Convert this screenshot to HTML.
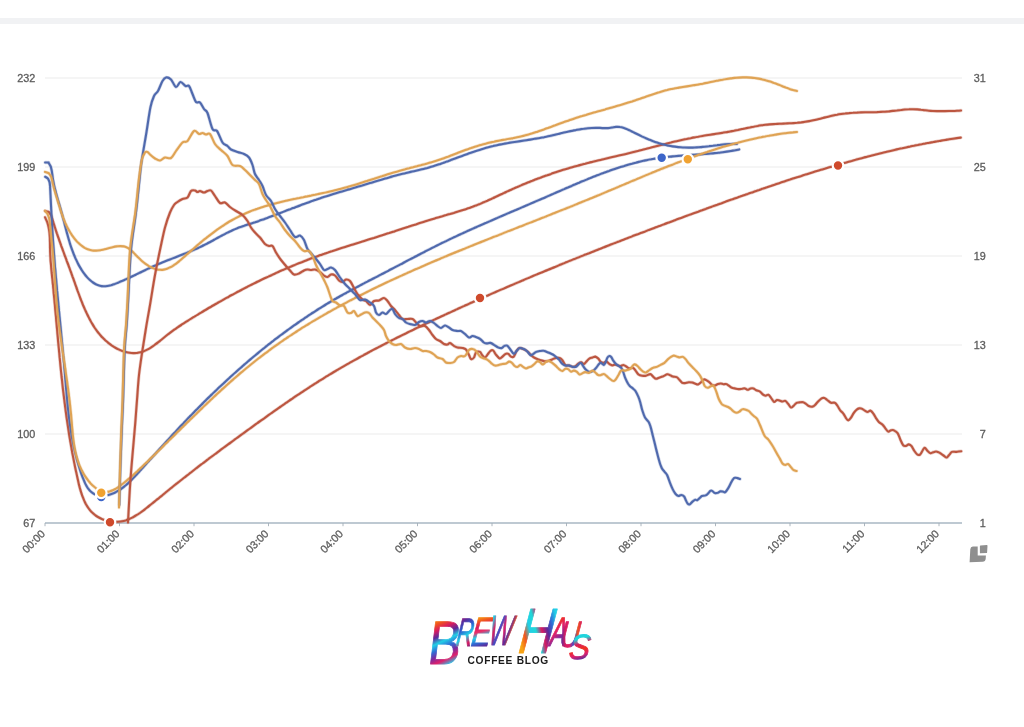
<!DOCTYPE html>
<html lang="en">
<head>
<meta charset="utf-8">
<title>Brew Haus Coffee Blog - Roast Profile</title>
<style>
html,body{margin:0;padding:0;background:#fff;}
body{width:1024px;height:727px;overflow:hidden;position:relative;font-family:"Liberation Sans",sans-serif;}
#topbar{position:absolute;left:0;top:18px;width:1024px;height:6px;background:#f1f2f4;}
svg{position:absolute;left:0;top:0;}
.ax{font-family:"Liberation Sans",sans-serif;font-size:10.8px;fill:#5c5c5c;stroke:#5c5c5c;stroke-width:0.3;}
.ln{fill:none;stroke-width:2.2;stroke-linejoin:round;stroke-linecap:round;}
#sub{position:absolute;left:467.5px;top:656.3px;font-family:"Liberation Sans",sans-serif;font-weight:bold;font-size:10.2px;line-height:10px;letter-spacing:0.72px;color:#1a1a1a;white-space:nowrap;}
</style>
</head>
<body>
<div id="topbar"></div>
<svg width="1024" height="727" viewBox="0 0 1024 727">

<g stroke="#ececec" stroke-width="1.2">
<line x1="45" y1="78" x2="962" y2="78"/>
<line x1="45" y1="167" x2="962" y2="167"/>
<line x1="45" y1="256" x2="962" y2="256"/>
<line x1="45" y1="345" x2="962" y2="345"/>
<line x1="45" y1="434" x2="962" y2="434"/>
</g>
<g stroke="#a9b7c3" stroke-width="1.4">
<line x1="45" y1="523" x2="962" y2="523"/>
<line x1="45.0" y1="523" x2="45.0" y2="526.2" stroke-width="0.9" stroke="#a3aeb8"/>
<line x1="119.5" y1="523" x2="119.5" y2="526.2" stroke-width="0.9" stroke="#a3aeb8"/>
<line x1="194.0" y1="523" x2="194.0" y2="526.2" stroke-width="0.9" stroke="#a3aeb8"/>
<line x1="268.5" y1="523" x2="268.5" y2="526.2" stroke-width="0.9" stroke="#a3aeb8"/>
<line x1="343.0" y1="523" x2="343.0" y2="526.2" stroke-width="0.9" stroke="#a3aeb8"/>
<line x1="417.5" y1="523" x2="417.5" y2="526.2" stroke-width="0.9" stroke="#a3aeb8"/>
<line x1="492.0" y1="523" x2="492.0" y2="526.2" stroke-width="0.9" stroke="#a3aeb8"/>
<line x1="566.5" y1="523" x2="566.5" y2="526.2" stroke-width="0.9" stroke="#a3aeb8"/>
<line x1="641.0" y1="523" x2="641.0" y2="526.2" stroke-width="0.9" stroke="#a3aeb8"/>
<line x1="715.5" y1="523" x2="715.5" y2="526.2" stroke-width="0.9" stroke="#a3aeb8"/>
<line x1="790.0" y1="523" x2="790.0" y2="526.2" stroke-width="0.9" stroke="#a3aeb8"/>
<line x1="864.5" y1="523" x2="864.5" y2="526.2" stroke-width="0.9" stroke="#a3aeb8"/>
<line x1="939.0" y1="523" x2="939.0" y2="526.2" stroke-width="0.9" stroke="#a3aeb8"/>
</g>
<g class="ax" text-anchor="end">
<text x="35.2" y="81.6">232</text>
<text x="35.2" y="170.6">199</text>
<text x="35.2" y="259.6">166</text>
<text x="35.2" y="348.6">133</text>
<text x="35.2" y="437.6">100</text>
<text x="35.2" y="526.6">67</text>
</g>
<g class="ax" text-anchor="end">
<text x="985.8" y="81.5">31</text>
<text x="985.8" y="170.5">25</text>
<text x="985.8" y="259.5">19</text>
<text x="985.8" y="348.5">13</text>
<text x="985.8" y="437.5">7</text>
<text x="985.8" y="526.5">1</text>
</g>
<g class="ax" text-anchor="end">
<text transform="translate(45.8,534.6) rotate(-45)">00:00</text>
<text transform="translate(120.3,534.6) rotate(-45)">01:00</text>
<text transform="translate(194.8,534.6) rotate(-45)">02:00</text>
<text transform="translate(269.3,534.6) rotate(-45)">03:00</text>
<text transform="translate(343.8,534.6) rotate(-45)">04:00</text>
<text transform="translate(418.3,534.6) rotate(-45)">05:00</text>
<text transform="translate(492.8,534.6) rotate(-45)">06:00</text>
<text transform="translate(567.3,534.6) rotate(-45)">07:00</text>
<text transform="translate(641.8,534.6) rotate(-45)">08:00</text>
<text transform="translate(716.3,534.6) rotate(-45)">09:00</text>
<text transform="translate(790.8,534.6) rotate(-45)">10:00</text>
<text transform="translate(865.3,534.6) rotate(-45)">11:00</text>
<text transform="translate(939.8,534.6) rotate(-45)">12:00</text>
</g>
<g>
<defs><path id="r_et" d="M45.1 210.9C45.7 211.1 48.1 211.8 48.7 212.0C49.4 212.2 48.4 211.6 48.8 212.1C49.2 212.6 50.4 213.9 51.0 215.1C51.6 216.3 52.1 218.3 52.4 219.1C52.7 219.9 52.4 219.3 52.6 219.9C52.8 220.6 53.2 222.0 53.6 223.2C54.0 224.3 54.4 225.8 54.8 227.0C55.2 228.3 55.6 229.6 56.0 230.8C56.4 232.0 57.0 233.8 57.3 234.5C57.5 235.2 57.2 234.4 57.4 235.0C57.7 235.6 58.1 237.1 58.6 238.2C59.0 239.4 59.4 240.7 59.9 242.0C60.3 243.3 60.8 244.5 61.2 245.8C61.7 247.1 62.1 248.3 62.6 249.6C63.1 250.9 63.5 252.1 64.0 253.4C64.5 254.7 64.9 256.0 65.4 257.2C65.9 258.5 66.4 259.8 66.8 261.1C67.3 262.4 67.8 263.6 68.3 264.9C68.7 266.2 69.2 267.5 69.7 268.7C70.1 270.0 70.6 271.3 71.1 272.5C71.5 273.8 72.0 275.1 72.4 276.3C72.9 277.6 73.3 278.8 73.8 280.1C74.2 281.3 74.7 282.6 75.1 283.8C75.5 285.0 76.0 286.3 76.4 287.5C76.9 288.7 77.3 290.0 77.7 291.2C78.2 292.4 78.6 293.6 79.1 294.8C79.5 296.1 80.0 297.3 80.4 298.5C80.9 299.7 81.4 300.9 81.9 302.1C82.3 303.4 82.8 304.6 83.3 305.8C83.9 307.0 84.4 308.2 84.9 309.4C85.5 310.6 86.0 311.9 86.6 313.1C87.2 314.3 87.7 315.5 88.4 316.7C89.0 317.9 89.6 319.2 90.3 320.4C90.9 321.6 91.6 322.8 92.3 323.9C93.0 325.1 93.7 326.3 94.5 327.5C95.3 328.6 96.1 329.7 96.9 330.9C97.7 332.0 98.6 333.1 99.5 334.1C100.4 335.2 101.3 336.2 102.2 337.3C103.2 338.3 104.2 339.2 105.2 340.2C106.2 341.1 107.3 342.0 108.3 342.9C109.4 343.8 110.5 344.6 111.6 345.4C112.8 346.1 113.9 346.9 115.0 347.5C116.2 348.2 117.4 348.9 118.6 349.4C119.7 350.0 120.9 350.5 122.2 350.9C123.4 351.4 124.6 351.8 125.8 352.1C127.0 352.4 128.3 352.7 129.5 352.8C130.7 353.0 132.0 353.1 133.2 353.1C134.4 353.2 135.7 353.1 136.9 353.0C138.1 352.8 139.3 352.6 140.5 352.3C141.8 352.0 143.0 351.6 144.1 351.1C145.3 350.6 146.5 350.0 147.7 349.4C148.9 348.8 150.0 348.1 151.2 347.3C152.3 346.6 153.5 345.8 154.6 345.0C155.8 344.1 156.9 343.3 158.0 342.4C159.1 341.5 160.3 340.6 161.4 339.7C162.5 338.8 163.6 337.9 164.7 337.0C165.8 336.1 166.9 335.2 168.0 334.3C169.1 333.5 170.2 332.6 171.3 331.8C172.4 331.0 173.5 330.2 174.6 329.4C175.7 328.7 176.8 327.9 177.9 327.2C179.0 326.4 180.1 325.7 181.2 325.0C182.3 324.3 183.3 323.6 184.4 322.9C185.5 322.2 186.6 321.5 187.7 320.8C188.8 320.1 189.9 319.4 191.1 318.7C192.2 318.0 193.3 317.3 194.4 316.7C195.5 316.0 196.6 315.3 197.8 314.6C198.9 313.9 200.0 313.2 201.1 312.6C202.3 311.9 203.4 311.2 204.5 310.5C205.7 309.9 206.8 309.2 207.9 308.5C209.1 307.8 210.2 307.2 211.4 306.5C212.5 305.8 213.7 305.2 214.8 304.5C216.0 303.9 217.1 303.2 218.3 302.5C219.4 301.9 220.6 301.2 221.7 300.6C222.9 299.9 224.1 299.3 225.2 298.6C226.4 298.0 227.6 297.3 228.8 296.7C229.9 296.0 231.1 295.4 232.3 294.8C233.5 294.1 234.6 293.5 235.8 292.9C237.0 292.2 238.2 291.6 239.4 291.0C240.6 290.3 241.8 289.7 242.9 289.1C244.1 288.5 245.3 287.9 246.5 287.3C247.7 286.6 248.9 286.0 250.1 285.4C251.3 284.8 252.5 284.2 253.7 283.6C254.9 283.0 256.2 282.4 257.4 281.8C258.6 281.2 259.8 280.6 261.0 280.0C262.2 279.5 263.4 278.9 264.6 278.3C265.9 277.7 267.1 277.1 268.3 276.6C269.5 276.0 270.7 275.4 272.0 274.9C273.2 274.3 274.4 273.7 275.6 273.2C276.9 272.6 278.1 272.1 279.3 271.5C280.6 271.0 281.8 270.4 283.0 269.9C284.3 269.4 285.5 268.8 286.8 268.3C288.0 267.8 289.2 267.2 290.5 266.7C291.7 266.2 293.0 265.7 294.2 265.2C295.4 264.7 296.7 264.2 297.9 263.6C299.2 263.1 300.4 262.6 301.7 262.2C302.9 261.7 304.2 261.2 305.4 260.7C306.7 260.2 307.9 259.7 309.2 259.2C310.4 258.8 311.7 258.3 313.0 257.8C314.2 257.4 315.5 256.9 316.7 256.5C318.0 256.0 319.2 255.6 320.5 255.1C321.8 254.7 323.0 254.2 324.3 253.8C325.6 253.3 326.8 252.9 328.1 252.5C329.3 252.1 330.6 251.6 331.9 251.2C333.1 250.8 334.4 250.4 335.7 250.0C336.9 249.5 338.2 249.1 339.5 248.7C340.8 248.3 342.0 247.9 343.3 247.5C344.6 247.1 345.8 246.7 347.1 246.3C348.4 245.9 349.6 245.5 350.9 245.1C352.2 244.7 353.5 244.3 354.7 243.9C356.0 243.5 357.3 243.1 358.6 242.7C359.8 242.3 361.1 241.9 362.4 241.5C363.7 241.1 364.9 240.7 366.2 240.3C367.5 239.9 368.8 239.5 370.0 239.1C371.3 238.7 372.6 238.3 373.9 237.9C375.1 237.5 376.4 237.1 377.7 236.7C379.0 236.3 380.2 235.9 381.5 235.5C382.8 235.1 384.1 234.7 385.3 234.2C386.6 233.8 387.9 233.4 389.2 233.0C390.4 232.6 391.7 232.2 393.0 231.8C394.3 231.4 395.5 230.9 396.8 230.5C398.1 230.1 399.4 229.7 400.6 229.3C401.9 228.9 403.2 228.5 404.5 228.0C405.7 227.6 407.0 227.2 408.3 226.8C409.5 226.4 410.8 226.0 412.1 225.6C413.4 225.2 414.6 224.8 415.9 224.4C417.2 223.9 418.4 223.5 419.7 223.1C421.0 222.7 422.2 222.3 423.5 221.9C424.8 221.5 426.0 221.1 427.3 220.7C428.6 220.4 429.8 220.0 431.1 219.6C432.4 219.2 433.6 218.8 434.9 218.4C436.2 218.0 437.4 217.7 438.7 217.3C439.9 216.9 441.2 216.5 442.5 216.2C443.7 215.8 445.0 215.4 446.2 215.1C447.5 214.7 448.7 214.3 450.0 214.0C451.2 213.6 452.5 213.2 453.8 212.9C455.0 212.5 456.3 212.1 457.5 211.7C458.8 211.4 460.0 211.0 461.3 210.6C462.5 210.2 463.8 209.8 465.0 209.4C466.3 209.0 467.5 208.5 468.8 208.1C470.0 207.7 471.3 207.2 472.5 206.8C473.7 206.3 475.0 205.9 476.2 205.4C477.5 204.9 478.7 204.4 480.0 203.9C481.2 203.4 482.5 202.8 483.7 202.3C485.0 201.8 486.2 201.2 487.4 200.7C488.7 200.1 489.9 199.5 491.2 199.0C492.4 198.4 493.7 197.8 494.9 197.2C496.2 196.7 497.4 196.1 498.6 195.5C499.9 194.9 501.1 194.3 502.4 193.8C503.6 193.2 504.9 192.6 506.1 192.0C507.4 191.4 508.6 190.9 509.8 190.3C511.1 189.7 512.3 189.2 513.6 188.6C514.8 188.1 516.1 187.5 517.3 187.0C518.6 186.4 519.8 185.9 521.0 185.4C522.3 184.8 523.5 184.3 524.8 183.8C526.0 183.3 527.3 182.8 528.5 182.3C529.8 181.8 531.0 181.3 532.3 180.8C533.5 180.3 534.8 179.8 536.0 179.3C537.3 178.8 538.5 178.4 539.8 177.9C541.0 177.4 542.3 177.0 543.5 176.5C544.8 176.1 546.0 175.6 547.3 175.2C548.6 174.7 549.8 174.3 551.1 173.9C552.3 173.4 553.6 173.0 554.8 172.6C556.1 172.2 557.4 171.7 558.6 171.3C559.9 170.9 561.1 170.5 562.4 170.1C563.7 169.7 564.9 169.4 566.2 169.0C567.5 168.6 568.7 168.2 570.0 167.8C571.3 167.5 572.5 167.1 573.8 166.7C575.1 166.4 576.3 166.0 577.6 165.7C578.9 165.3 580.2 165.0 581.4 164.7C582.7 164.3 584.0 164.0 585.3 163.7C586.5 163.3 587.8 163.0 589.1 162.7C590.4 162.4 591.7 162.0 592.9 161.7C594.2 161.4 595.5 161.1 596.8 160.8C598.1 160.5 599.4 160.2 600.7 159.9C601.9 159.6 603.2 159.2 604.5 158.9C605.8 158.6 607.1 158.3 608.4 158.0C609.7 157.7 611.0 157.4 612.3 157.1C613.5 156.8 614.8 156.5 616.1 156.2C617.4 155.9 618.7 155.6 620.0 155.3C621.3 155.0 622.6 154.7 623.9 154.4C625.2 154.1 626.5 153.8 627.8 153.4C629.1 153.1 630.4 152.8 631.7 152.5C633.0 152.2 634.3 151.8 635.6 151.5C636.9 151.2 638.2 150.9 639.5 150.5C640.8 150.2 642.1 149.9 643.4 149.5C644.7 149.2 646.0 148.9 647.3 148.5C648.6 148.2 649.9 147.9 651.2 147.5C652.5 147.2 653.8 146.8 655.2 146.5C656.5 146.2 657.8 145.8 659.1 145.5C660.4 145.2 661.7 144.8 663.0 144.5C664.3 144.2 665.6 143.9 666.9 143.5C668.2 143.2 669.6 142.9 670.9 142.6C672.2 142.2 673.5 141.9 674.8 141.6C676.1 141.3 677.4 141.0 678.7 140.7C680.0 140.4 681.4 140.1 682.7 139.8C684.0 139.5 685.3 139.2 686.6 139.0C687.9 138.7 689.2 138.4 690.6 138.2C691.9 137.9 693.2 137.6 694.5 137.4C695.8 137.1 697.1 136.9 698.4 136.7C699.8 136.4 701.1 136.2 702.4 136.0C703.7 135.8 705.0 135.6 706.3 135.3C707.6 135.1 709.0 134.9 710.3 134.7C711.6 134.5 712.9 134.3 714.2 134.1C715.5 133.9 716.9 133.7 718.2 133.5C719.5 133.3 720.8 133.1 722.1 132.9C723.4 132.6 724.8 132.4 726.1 132.2C727.4 132.0 728.7 131.7 730.0 131.5C731.3 131.3 732.7 131.0 734.0 130.8C735.3 130.5 736.6 130.2 737.9 130.0C739.2 129.7 740.6 129.4 741.9 129.1C743.2 128.8 744.5 128.6 745.8 128.3C747.2 128.0 748.5 127.7 749.8 127.5C751.1 127.2 752.4 126.9 753.7 126.7C755.1 126.4 756.4 126.2 757.7 126.0C759.0 125.7 760.3 125.5 761.7 125.3C763.0 125.1 764.3 125.0 765.6 124.8C766.9 124.7 768.3 124.5 769.6 124.4C770.9 124.3 772.2 124.2 773.5 124.1C774.9 124.0 776.2 124.0 777.5 123.9C778.8 123.8 780.2 123.8 781.5 123.7C782.8 123.6 784.1 123.6 785.4 123.5C786.8 123.4 788.1 123.4 789.4 123.3C790.7 123.2 792.1 123.2 793.4 123.1C794.7 123.0 796.0 122.9 797.3 122.8C798.7 122.6 800.0 122.5 801.3 122.4C802.6 122.2 804.0 122.0 805.3 121.8C806.6 121.6 807.9 121.4 809.3 121.1C810.6 120.9 811.9 120.6 813.2 120.3C814.6 120.0 815.9 119.7 817.2 119.4C818.5 119.1 819.9 118.7 821.2 118.4C822.5 118.1 823.8 117.7 825.2 117.4C826.5 117.1 827.8 116.7 829.1 116.4C830.5 116.1 831.8 115.8 833.1 115.5C834.4 115.2 835.8 114.9 837.1 114.7C838.4 114.4 839.7 114.2 841.1 114.0C842.4 113.8 843.7 113.6 845.1 113.5C846.4 113.3 847.7 113.2 849.0 113.1C850.4 112.9 851.7 112.8 853.0 112.8C854.3 112.7 855.7 112.6 857.0 112.6C858.3 112.5 859.7 112.5 861.0 112.4C862.3 112.4 863.6 112.4 865.0 112.3C866.3 112.3 867.6 112.3 869.0 112.3C870.3 112.2 871.6 112.2 873.0 112.2C874.3 112.1 875.6 112.1 876.9 112.1C878.3 112.0 879.6 112.0 880.9 111.9C882.3 111.8 883.6 111.8 884.9 111.7C886.3 111.6 887.6 111.5 888.9 111.4C890.3 111.2 891.6 111.1 892.9 110.9C894.3 110.8 895.6 110.6 896.9 110.5C898.2 110.3 899.6 110.1 900.9 110.0C902.2 109.8 903.6 109.7 904.9 109.5C906.2 109.4 907.6 109.3 908.9 109.3C910.2 109.2 911.6 109.2 912.9 109.2C914.2 109.2 915.6 109.3 916.9 109.4C918.2 109.5 919.6 109.6 920.9 109.8C922.2 109.9 923.6 110.1 924.9 110.2C926.3 110.4 927.6 110.6 928.9 110.7C930.3 110.8 931.6 111.0 932.9 111.0C934.3 111.1 935.6 111.1 936.9 111.1C938.3 111.1 939.6 111.1 940.9 111.1C942.3 111.1 943.6 111.1 945.0 111.1C946.3 111.1 947.6 111.1 949.0 111.0C950.3 111.0 951.6 111.0 953.0 111.0C954.3 111.0 955.7 110.9 957.0 110.8C958.3 110.8 960.3 110.6 961.0 110.5"/></defs>
<use href="#r_et" class="ln" stroke="#bc5640" style="stroke-width:3.4px;stroke-opacity:0.28"/>
<use href="#r_et" class="ln" stroke="#bc5640" style="stroke-width:2.1px"/>
<defs><path id="b_et" d="M45.1 162.5C45.7 162.5 47.9 162.6 48.5 162.6C49.0 162.7 48.3 162.2 48.6 162.8C49.0 163.4 50.2 165.5 50.6 166.3C51.0 167.1 50.8 166.7 51.0 167.4C51.1 168.1 51.4 169.3 51.7 170.5C51.9 171.6 52.1 173.2 52.3 174.4C52.5 175.6 52.6 176.9 52.7 177.5C52.8 178.2 52.7 177.5 52.8 178.3C53.0 179.1 53.2 180.9 53.5 182.2C53.7 183.5 54.0 184.8 54.3 186.2C54.6 187.5 54.9 188.8 55.3 190.1C55.6 191.4 55.9 192.7 56.3 194.0C56.6 195.3 57.0 196.6 57.4 198.0C57.8 199.3 58.1 200.6 58.5 201.9C58.9 203.2 59.3 204.5 59.7 205.8C60.1 207.1 60.4 208.4 60.8 209.7C61.2 211.0 61.5 212.3 61.9 213.6C62.3 214.9 62.6 216.2 62.9 217.5C63.3 218.8 63.6 220.1 64.0 221.4C64.3 222.7 64.6 224.0 64.9 225.3C65.3 226.5 65.6 227.8 65.9 229.1C66.3 230.4 66.6 231.7 66.9 232.9C67.3 234.2 67.6 235.5 68.0 236.8C68.3 238.0 68.7 239.3 69.1 240.6C69.4 241.8 69.8 243.1 70.2 244.4C70.6 245.6 71.1 246.9 71.5 248.2C71.9 249.4 72.4 250.7 72.9 251.9C73.3 253.2 73.8 254.4 74.4 255.7C74.9 256.9 75.4 258.2 76.0 259.4C76.6 260.7 77.2 262.0 77.8 263.2C78.4 264.4 79.1 265.7 79.8 266.9C80.5 268.1 81.2 269.3 82.0 270.5C82.7 271.7 83.5 272.8 84.4 273.9C85.2 275.0 86.1 276.1 87.0 277.1C87.9 278.1 88.9 279.1 89.9 280.0C90.9 280.9 91.9 281.8 93.0 282.5C94.1 283.2 95.2 283.9 96.4 284.5C97.5 285.0 98.7 285.5 99.9 285.8C101.0 286.1 102.3 286.3 103.5 286.3C104.7 286.4 106.0 286.2 107.2 286.0C108.5 285.8 109.8 285.5 111.0 285.2C112.3 284.8 113.6 284.3 114.9 283.9C116.1 283.4 117.4 282.9 118.7 282.4C120.0 281.8 121.2 281.3 122.5 280.8C123.8 280.2 125.0 279.7 126.3 279.1C127.6 278.5 128.8 277.9 130.1 277.4C131.3 276.8 132.6 276.2 133.8 275.6C135.1 275.0 136.3 274.4 137.6 273.8C138.8 273.2 140.1 272.6 141.3 272.0C142.6 271.4 143.8 270.8 145.0 270.2C146.3 269.6 147.5 269.0 148.7 268.4C150.0 267.9 151.2 267.3 152.4 266.7C153.7 266.2 154.9 265.6 156.1 265.1C157.3 264.5 158.6 264.0 159.8 263.5C161.0 263.0 162.3 262.5 163.5 262.0C164.7 261.5 165.9 261.0 167.1 260.5C168.4 260.0 169.6 259.6 170.8 259.1C172.0 258.6 173.3 258.1 174.5 257.7C175.7 257.2 176.9 256.7 178.1 256.2C179.3 255.8 180.6 255.3 181.8 254.8C183.0 254.3 184.2 253.9 185.4 253.4C186.6 252.9 187.9 252.4 189.1 251.9C190.3 251.4 191.5 250.9 192.7 250.4C193.9 249.8 195.2 249.3 196.4 248.8C197.6 248.2 198.8 247.7 200.0 247.1C201.2 246.5 202.5 245.9 203.7 245.3C204.9 244.7 206.1 244.1 207.3 243.5C208.5 242.8 209.8 242.2 211.0 241.5C212.2 240.9 213.4 240.2 214.6 239.5C215.9 238.8 217.1 238.2 218.3 237.5C219.5 236.8 220.7 236.2 222.0 235.5C223.2 234.9 224.4 234.2 225.6 233.6C226.8 233.0 228.1 232.3 229.3 231.7C230.5 231.2 231.8 230.6 233.0 230.0C234.2 229.5 235.4 229.0 236.7 228.5C237.9 228.0 239.1 227.5 240.4 227.1C241.6 226.6 242.8 226.2 244.1 225.8C245.3 225.4 246.5 225.0 247.8 224.6C249.0 224.2 250.3 223.8 251.5 223.4C252.7 223.0 254.0 222.6 255.2 222.2C256.5 221.7 257.7 221.3 259.0 220.9C260.2 220.4 261.5 220.0 262.7 219.6C264.0 219.1 265.2 218.7 266.5 218.2C267.7 217.7 269.0 217.3 270.2 216.8C271.5 216.3 272.7 215.9 274.0 215.4C275.3 214.9 276.5 214.4 277.8 214.0C279.1 213.5 280.3 213.0 281.6 212.5C282.8 212.0 284.1 211.5 285.4 211.0C286.6 210.6 287.9 210.1 289.2 209.6C290.5 209.1 291.7 208.6 293.0 208.1C294.3 207.6 295.5 207.2 296.8 206.7C298.1 206.2 299.4 205.7 300.6 205.2C301.9 204.8 303.2 204.3 304.5 203.8C305.7 203.3 307.0 202.9 308.3 202.4C309.6 201.9 310.8 201.5 312.1 201.0C313.4 200.6 314.7 200.1 316.0 199.7C317.2 199.3 318.5 198.8 319.8 198.4C321.1 198.0 322.4 197.5 323.6 197.1C324.9 196.7 326.2 196.3 327.5 195.9C328.8 195.5 330.1 195.1 331.3 194.7C332.6 194.3 333.9 193.9 335.2 193.5C336.5 193.1 337.8 192.7 339.0 192.3C340.3 191.9 341.6 191.6 342.9 191.2C344.2 190.8 345.5 190.4 346.8 190.0C348.0 189.6 349.3 189.3 350.6 188.9C351.9 188.5 353.2 188.1 354.5 187.7C355.7 187.4 357.0 187.0 358.3 186.6C359.6 186.2 360.9 185.8 362.2 185.5C363.4 185.1 364.7 184.7 366.0 184.3C367.3 183.9 368.6 183.5 369.9 183.1C371.1 182.8 372.4 182.4 373.7 182.0C375.0 181.6 376.3 181.2 377.6 180.8C378.8 180.4 380.1 180.0 381.4 179.7C382.7 179.3 384.0 178.9 385.2 178.5C386.5 178.2 387.8 177.8 389.1 177.4C390.4 177.1 391.7 176.7 392.9 176.3C394.2 176.0 395.5 175.6 396.8 175.3C398.1 175.0 399.3 174.6 400.6 174.3C401.9 174.0 403.2 173.7 404.5 173.4C405.7 173.1 407.0 172.8 408.3 172.5C409.6 172.2 410.9 171.9 412.1 171.6C413.4 171.3 414.7 171.0 416.0 170.7C417.3 170.4 418.5 170.1 419.8 169.8C421.1 169.5 422.4 169.2 423.7 168.9C424.9 168.6 426.2 168.2 427.5 167.9C428.8 167.5 430.1 167.1 431.3 166.7C432.6 166.4 433.9 166.0 435.2 165.5C436.5 165.1 437.8 164.7 439.0 164.3C440.3 163.9 441.6 163.4 442.9 163.0C444.2 162.5 445.5 162.1 446.7 161.6C448.0 161.1 449.3 160.7 450.6 160.2C451.9 159.7 453.2 159.3 454.4 158.8C455.7 158.3 457.0 157.8 458.3 157.3C459.6 156.9 460.9 156.4 462.2 155.9C463.4 155.5 464.7 155.0 466.0 154.5C467.3 154.0 468.6 153.6 469.9 153.1C471.2 152.7 472.5 152.2 473.7 151.8C475.0 151.3 476.3 150.9 477.6 150.5C478.9 150.1 480.2 149.7 481.5 149.3C482.8 148.9 484.1 148.5 485.4 148.1C486.7 147.7 487.9 147.4 489.2 147.0C490.5 146.7 491.8 146.4 493.1 146.1C494.4 145.7 495.7 145.5 497.0 145.2C498.3 144.9 499.6 144.6 500.9 144.4C502.2 144.1 503.5 143.9 504.8 143.6C506.1 143.4 507.4 143.2 508.7 142.9C510.0 142.7 511.3 142.5 512.6 142.3C513.9 142.1 515.2 141.9 516.5 141.7C517.8 141.5 519.1 141.3 520.4 141.1C521.7 140.9 523.0 140.7 524.3 140.5C525.6 140.3 527.0 140.1 528.3 139.9C529.6 139.7 530.9 139.5 532.2 139.3C533.5 139.1 534.8 138.9 536.1 138.6C537.4 138.4 538.8 138.2 540.1 137.9C541.4 137.7 542.7 137.4 544.0 137.2C545.3 136.9 546.6 136.6 548.0 136.3C549.3 136.1 550.6 135.8 551.9 135.5C553.2 135.2 554.6 134.8 555.9 134.5C557.2 134.2 558.5 133.9 559.9 133.6C561.2 133.3 562.5 132.9 563.8 132.6C565.2 132.3 566.5 132.0 567.8 131.7C569.2 131.4 570.5 131.1 571.8 130.9C573.1 130.6 574.5 130.3 575.8 130.1C577.1 129.8 578.5 129.6 579.8 129.4C581.2 129.1 582.5 128.9 583.8 128.8C585.2 128.6 586.5 128.4 587.9 128.3C589.2 128.2 590.5 128.1 591.9 128.0C593.2 127.9 594.6 127.9 595.9 127.9C597.3 127.9 598.6 127.9 600.0 127.9C601.3 128.0 602.7 128.1 604.0 128.1C605.3 128.1 606.7 128.2 608.0 128.1C609.4 128.0 610.7 127.7 612.0 127.5C613.4 127.3 614.7 127.0 616.0 126.9C617.3 126.8 618.7 126.8 620.0 127.0C621.3 127.1 622.6 127.5 623.9 127.9C625.2 128.3 626.4 128.8 627.6 129.4C628.9 129.9 630.1 130.6 631.3 131.2C632.5 131.8 633.7 132.4 634.9 133.0C636.1 133.6 637.3 134.2 638.6 134.8C639.8 135.4 641.0 136.0 642.2 136.6C643.4 137.1 644.7 137.7 645.9 138.2C647.1 138.8 648.4 139.3 649.6 139.8C650.8 140.3 652.1 140.8 653.3 141.3C654.6 141.8 655.8 142.2 657.1 142.6C658.4 143.1 659.6 143.5 660.9 143.8C662.2 144.2 663.5 144.5 664.8 144.8C666.1 145.2 667.4 145.4 668.7 145.7C670.0 146.0 671.3 146.2 672.6 146.4C673.9 146.6 675.2 146.8 676.6 146.9C677.9 147.1 679.2 147.2 680.6 147.3C681.9 147.4 683.2 147.5 684.6 147.5C685.9 147.6 687.3 147.6 688.6 147.6C689.9 147.6 691.3 147.6 692.7 147.6C694.0 147.5 695.4 147.5 696.7 147.4C698.1 147.3 699.4 147.2 700.8 147.1C702.1 147.0 703.5 146.8 704.8 146.7C706.2 146.5 707.6 146.3 708.9 146.2C710.3 146.0 711.6 145.8 713.0 145.7C714.3 145.5 715.7 145.3 717.0 145.2C718.4 145.0 719.7 144.8 721.0 144.7C722.4 144.6 723.7 144.4 725.1 144.3C726.4 144.2 727.7 144.1 729.0 144.0C730.4 144.0 731.7 143.9 733.0 143.9C734.3 143.9 736.3 144.0 736.9 144.0"/></defs>
<use href="#b_et" class="ln" stroke="#4f69ad" style="stroke-width:3.4px;stroke-opacity:0.28"/>
<use href="#b_et" class="ln" stroke="#4f69ad" style="stroke-width:2.1px"/>
<defs><path id="o_et" d="M45.0 171.9C45.6 172.1 48.1 172.9 48.7 173.2C49.3 173.4 48.5 172.7 48.8 173.3C49.2 173.8 50.4 175.1 50.9 176.3C51.5 177.5 51.8 179.3 52.1 180.3C52.3 181.3 52.4 181.7 52.5 182.4C52.7 183.1 52.7 183.5 53.0 184.5C53.3 185.5 53.7 187.2 54.0 188.5C54.4 189.9 54.8 191.2 55.2 192.5C55.5 193.7 55.9 195.0 56.3 196.3C56.7 197.5 57.3 199.4 57.5 200.0C57.7 200.7 57.3 199.4 57.5 200.0C57.7 200.7 58.3 202.5 58.6 203.8C59.0 205.0 59.4 206.3 59.8 207.5C60.1 208.7 60.5 210.0 60.9 211.2C61.3 212.5 61.7 213.7 62.2 214.9C62.6 216.2 63.0 217.4 63.5 218.7C64.0 219.9 64.5 221.1 65.0 222.4C65.6 223.6 66.1 224.9 66.7 226.1C67.3 227.3 68.0 228.6 68.7 229.8C69.4 231.1 70.1 232.3 70.9 233.5C71.6 234.7 72.4 235.9 73.3 237.0C74.1 238.2 75.0 239.3 75.9 240.3C76.8 241.4 77.8 242.4 78.8 243.3C79.8 244.3 80.8 245.2 81.9 245.9C82.9 246.7 84.0 247.4 85.1 248.1C86.3 248.7 87.4 249.2 88.6 249.6C89.8 250.0 91.1 250.3 92.3 250.5C93.6 250.7 94.9 250.7 96.2 250.6C97.5 250.6 98.9 250.4 100.3 250.2C101.6 250.0 103.0 249.6 104.4 249.3C105.7 249.0 107.1 248.6 108.5 248.2C109.9 247.9 111.2 247.5 112.6 247.2C113.9 246.9 115.2 246.6 116.5 246.4C117.8 246.3 119.1 246.1 120.3 246.1C121.5 246.1 122.7 246.2 123.8 246.4C124.9 246.6 125.9 247.0 127.0 247.5C128.0 247.9 128.9 248.6 129.8 249.3C130.8 250.0 131.7 250.8 132.6 251.7C133.5 252.6 134.4 253.6 135.3 254.5C136.3 255.5 137.3 256.6 138.3 257.6C139.3 258.6 140.4 259.7 141.6 260.7C142.7 261.7 143.9 262.7 145.2 263.6C146.4 264.5 147.7 265.3 148.9 266.1C150.2 266.9 151.5 267.6 152.8 268.1C154.0 268.6 155.3 269.1 156.5 269.4C157.8 269.7 159.0 269.8 160.2 269.8C161.4 269.9 162.5 269.8 163.7 269.6C164.8 269.4 166.0 269.1 167.1 268.7C168.2 268.3 169.3 267.8 170.4 267.2C171.5 266.7 172.6 266.0 173.7 265.3C174.7 264.6 175.8 263.9 176.8 263.1C177.9 262.3 178.9 261.4 180.0 260.5C181.0 259.7 182.1 258.7 183.1 257.8C184.2 256.9 185.2 256.0 186.2 255.0C187.3 254.1 188.3 253.2 189.4 252.2C190.4 251.3 191.5 250.4 192.5 249.5C193.6 248.5 194.7 247.6 195.7 246.7C196.8 245.8 197.8 244.9 198.9 244.0C200.0 243.1 201.1 242.2 202.1 241.3C203.2 240.4 204.3 239.5 205.4 238.7C206.4 237.8 207.5 236.9 208.6 236.1C209.7 235.2 210.8 234.4 211.9 233.6C213.0 232.7 214.1 231.9 215.2 231.1C216.3 230.3 217.4 229.5 218.6 228.7C219.7 227.9 220.8 227.1 221.9 226.4C223.0 225.6 224.2 224.9 225.3 224.2C226.5 223.4 227.6 222.7 228.7 222.0C229.9 221.3 231.0 220.7 232.2 220.0C233.4 219.3 234.5 218.7 235.7 218.1C236.9 217.5 238.1 216.9 239.2 216.3C240.4 215.7 241.6 215.1 242.8 214.6C244.0 214.0 245.2 213.5 246.4 213.0C247.6 212.5 248.8 212.0 250.0 211.5C251.2 211.0 252.5 210.5 253.7 210.1C254.9 209.6 256.1 209.2 257.4 208.8C258.6 208.3 259.8 207.9 261.1 207.5C262.3 207.1 263.6 206.7 264.8 206.3C266.1 206.0 267.3 205.6 268.6 205.2C269.9 204.9 271.1 204.5 272.4 204.2C273.6 203.8 274.9 203.5 276.2 203.2C277.5 202.9 278.7 202.5 280.0 202.2C281.3 201.9 282.6 201.6 283.9 201.3C285.2 201.0 286.4 200.7 287.7 200.4C289.0 200.2 290.3 199.9 291.6 199.6C292.9 199.3 294.2 199.0 295.5 198.8C296.8 198.5 298.1 198.2 299.4 198.0C300.7 197.7 302.0 197.4 303.3 197.2C304.6 196.9 305.9 196.6 307.2 196.4C308.6 196.1 309.9 195.8 311.2 195.6C312.5 195.3 313.8 195.0 315.1 194.8C316.4 194.5 317.7 194.2 319.1 193.9C320.4 193.7 321.7 193.4 323.0 193.1C324.3 192.8 325.6 192.5 327.0 192.2C328.3 191.9 329.6 191.6 330.9 191.3C332.2 191.0 333.5 190.7 334.9 190.3C336.2 190.0 337.5 189.7 338.8 189.3C340.1 189.0 341.4 188.7 342.7 188.3C344.1 187.9 345.4 187.6 346.7 187.2C348.0 186.8 349.3 186.4 350.6 186.1C351.9 185.7 353.2 185.3 354.5 184.9C355.9 184.5 357.2 184.1 358.5 183.7C359.8 183.3 361.1 182.8 362.4 182.4C363.7 182.0 365.0 181.6 366.3 181.2C367.6 180.8 368.9 180.3 370.2 179.9C371.5 179.5 372.8 179.1 374.1 178.7C375.4 178.2 376.7 177.8 378.0 177.4C379.3 177.0 380.6 176.6 381.9 176.2C383.2 175.7 384.5 175.3 385.8 174.9C387.1 174.5 388.4 174.1 389.7 173.7C391.0 173.3 392.3 172.9 393.6 172.5C394.9 172.1 396.2 171.7 397.5 171.4C398.8 171.0 400.1 170.6 401.4 170.3C402.7 169.9 404.0 169.5 405.3 169.2C406.6 168.8 407.9 168.5 409.2 168.2C410.5 167.8 411.8 167.5 413.1 167.2C414.4 166.8 415.6 166.5 416.9 166.2C418.2 165.8 419.5 165.5 420.8 165.2C422.1 164.8 423.4 164.5 424.7 164.2C426.0 163.8 427.3 163.5 428.6 163.1C429.8 162.7 431.1 162.4 432.4 162.0C433.7 161.6 435.0 161.2 436.3 160.8C437.6 160.4 438.9 160.0 440.1 159.5C441.4 159.1 442.7 158.7 444.0 158.2C445.3 157.7 446.6 157.2 447.9 156.8C449.2 156.3 450.4 155.8 451.7 155.3C453.0 154.8 454.3 154.3 455.6 153.8C456.9 153.3 458.1 152.8 459.4 152.3C460.7 151.8 462.0 151.3 463.3 150.8C464.6 150.3 465.8 149.9 467.1 149.4C468.4 149.0 469.7 148.5 471.0 148.1C472.3 147.6 473.5 147.2 474.8 146.8C476.1 146.4 477.4 146.0 478.7 145.6C479.9 145.2 481.2 144.9 482.5 144.5C483.8 144.2 485.1 143.8 486.3 143.5C487.6 143.1 488.9 142.8 490.2 142.5C491.5 142.2 492.7 141.9 494.0 141.7C495.3 141.4 496.6 141.1 497.9 140.9C499.1 140.6 500.4 140.4 501.7 140.1C503.0 139.9 504.3 139.7 505.5 139.5C506.8 139.2 508.1 139.0 509.4 138.8C510.6 138.6 511.9 138.3 513.2 138.1C514.5 137.8 515.8 137.6 517.0 137.3C518.3 137.1 519.6 136.8 520.9 136.5C522.1 136.2 523.4 135.9 524.7 135.5C526.0 135.2 527.2 134.8 528.5 134.5C529.8 134.1 531.1 133.7 532.4 133.3C533.6 132.9 534.9 132.5 536.2 132.1C537.5 131.7 538.7 131.2 540.0 130.8C541.3 130.4 542.6 129.9 543.8 129.5C545.1 129.0 546.4 128.5 547.7 128.1C549.0 127.6 550.2 127.1 551.5 126.7C552.8 126.2 554.1 125.7 555.3 125.3C556.6 124.8 557.9 124.3 559.2 123.8C560.4 123.4 561.7 122.9 563.0 122.4C564.3 122.0 565.6 121.5 566.8 121.1C568.1 120.6 569.4 120.2 570.7 119.7C571.9 119.3 573.2 118.9 574.5 118.4C575.8 118.0 577.0 117.6 578.3 117.2C579.6 116.8 580.9 116.4 582.2 116.0C583.4 115.6 584.7 115.2 586.0 114.9C587.3 114.5 588.5 114.1 589.8 113.7C591.1 113.4 592.4 113.0 593.7 112.6C594.9 112.3 596.2 111.9 597.5 111.5C598.8 111.2 600.1 110.8 601.3 110.5C602.6 110.1 603.9 109.7 605.2 109.4C606.5 109.0 607.7 108.7 609.0 108.3C610.3 107.9 611.6 107.6 612.9 107.2C614.2 106.8 615.4 106.5 616.7 106.1C618.0 105.7 619.3 105.4 620.6 105.0C621.9 104.6 623.2 104.2 624.4 103.8C625.7 103.4 627.0 103.0 628.3 102.6C629.6 102.2 630.9 101.8 632.2 101.4C633.5 100.9 634.8 100.5 636.0 100.1C637.3 99.6 638.6 99.2 639.9 98.8C641.2 98.3 642.5 97.9 643.8 97.4C645.1 97.0 646.4 96.5 647.7 96.1C649.0 95.6 650.3 95.2 651.6 94.8C652.9 94.3 654.2 93.9 655.5 93.5C656.8 93.1 658.1 92.6 659.4 92.3C660.7 91.9 662.0 91.5 663.3 91.1C664.6 90.7 665.9 90.4 667.2 90.1C668.5 89.7 669.8 89.4 671.1 89.1C672.4 88.8 673.7 88.6 675.1 88.3C676.4 88.1 677.7 87.8 679.0 87.6C680.3 87.4 681.6 87.2 682.9 87.0C684.3 86.8 685.6 86.6 686.9 86.4C688.2 86.2 689.5 86.0 690.8 85.8C692.2 85.6 693.5 85.4 694.8 85.1C696.1 84.9 697.5 84.7 698.8 84.4C700.1 84.2 701.4 83.9 702.8 83.7C704.1 83.4 705.4 83.1 706.8 82.9C708.1 82.6 709.4 82.3 710.7 82.0C712.1 81.8 713.4 81.5 714.7 81.2C716.1 80.9 717.4 80.7 718.7 80.4C720.1 80.2 721.4 79.9 722.7 79.7C724.1 79.4 725.4 79.2 726.7 79.0C728.1 78.8 729.4 78.6 730.7 78.4C732.1 78.2 733.4 78.1 734.7 77.9C736.0 77.8 737.4 77.7 738.7 77.6C740.0 77.5 741.4 77.4 742.7 77.4C744.0 77.4 745.3 77.4 746.7 77.4C748.0 77.4 749.3 77.5 750.6 77.6C751.9 77.7 753.3 77.8 754.6 78.0C755.9 78.2 757.2 78.4 758.5 78.6C759.8 78.9 761.1 79.1 762.4 79.5C763.7 79.8 765.0 80.1 766.3 80.5C767.6 80.8 768.9 81.2 770.2 81.6C771.5 82.1 772.8 82.5 774.1 83.0C775.4 83.4 776.7 83.9 778.0 84.4C779.3 84.9 780.5 85.4 781.8 85.9C783.1 86.4 784.4 87.0 785.6 87.5C786.9 87.9 788.2 88.4 789.4 88.9C790.7 89.3 792.0 89.7 793.2 90.1C794.5 90.4 796.3 90.9 796.9 91.0"/></defs>
<use href="#o_et" class="ln" stroke="#dfa354" style="stroke-width:3.4px;stroke-opacity:0.28"/>
<use href="#o_et" class="ln" stroke="#dfa354" style="stroke-width:2.1px"/>
<defs><path id="r_bt" d="M45.1 217.3C45.4 218.0 46.4 220.3 46.8 221.2C47.2 222.1 47.2 222.1 47.4 222.7C47.6 223.4 47.8 224.1 48.1 225.1C48.3 226.2 48.7 227.7 48.9 229.0C49.2 230.3 49.3 231.6 49.5 233.0C49.6 234.3 49.7 235.6 49.8 236.9C49.9 238.2 49.9 239.6 49.9 240.9C50.0 242.2 50.0 243.5 50.0 244.9C50.0 246.2 50.0 248.0 50.1 248.9C50.1 249.7 50.1 249.2 50.1 249.9C50.1 250.6 50.1 251.7 50.2 252.9C50.2 254.0 50.3 255.5 50.4 256.9C50.5 258.2 50.5 259.6 50.6 260.9C50.7 262.2 50.9 263.6 51.0 264.9C51.1 266.3 51.2 267.6 51.3 269.0C51.5 270.3 51.6 271.6 51.7 273.0C51.9 274.3 52.0 275.8 52.1 277.0C52.3 278.2 52.4 279.4 52.5 280.0C52.5 280.7 52.5 280.2 52.6 281.1C52.6 281.9 52.8 283.7 53.0 285.1C53.1 286.4 53.2 287.8 53.4 289.1C53.5 290.5 53.6 291.8 53.7 293.2C53.9 294.5 54.0 295.8 54.1 297.2C54.3 298.5 54.4 299.9 54.5 301.2C54.6 302.6 54.8 303.9 54.9 305.2C55.0 306.6 55.1 307.9 55.2 309.3C55.4 310.6 55.5 311.9 55.6 313.3C55.7 314.6 55.9 315.9 56.0 317.3C56.1 318.6 56.2 320.0 56.3 321.3C56.5 322.6 56.6 324.0 56.7 325.3C56.8 326.6 56.9 328.0 57.1 329.3C57.2 330.6 57.3 332.0 57.4 333.3C57.5 334.6 57.7 336.0 57.8 337.3C57.9 338.6 58.0 340.0 58.1 341.3C58.3 342.6 58.4 343.9 58.5 345.3C58.6 346.6 58.8 347.9 58.9 349.2C59.0 350.6 59.1 351.9 59.3 353.2C59.4 354.5 59.5 355.9 59.6 357.2C59.8 358.5 59.9 359.8 60.0 361.1C60.2 362.5 60.3 363.8 60.4 365.1C60.5 366.4 60.7 367.7 60.8 369.1C60.9 370.4 61.1 371.7 61.2 373.0C61.4 374.3 61.5 375.6 61.6 377.0C61.8 378.3 61.9 379.6 62.1 380.9C62.2 382.2 62.3 383.5 62.5 384.8C62.6 386.2 62.8 387.5 62.9 388.8C63.1 390.1 63.2 391.4 63.4 392.7C63.6 394.1 63.7 395.4 63.9 396.7C64.0 398.0 64.2 399.3 64.4 400.6C64.5 402.0 64.7 403.3 64.9 404.6C65.0 405.9 65.2 407.2 65.4 408.5C65.5 409.9 65.7 411.2 65.9 412.5C66.1 413.8 66.3 415.1 66.4 416.5C66.6 417.8 66.8 419.1 67.0 420.4C67.2 421.7 67.4 423.1 67.6 424.4C67.8 425.7 68.0 427.0 68.2 428.4C68.4 429.7 68.6 431.0 68.8 432.3C69.0 433.7 69.2 435.0 69.4 436.3C69.7 437.7 69.9 439.0 70.1 440.3C70.3 441.7 70.6 443.0 70.8 444.3C71.0 445.7 71.3 447.0 71.5 448.3C71.7 449.7 72.0 451.0 72.2 452.4C72.5 453.7 72.7 455.0 73.0 456.4C73.2 457.7 73.5 459.1 73.8 460.4C74.0 461.8 74.3 463.1 74.6 464.5C74.8 465.8 75.1 467.2 75.4 468.5C75.7 469.9 76.0 471.3 76.3 472.6C76.6 474.0 76.9 475.3 77.2 476.7C77.5 478.1 77.8 479.4 78.1 480.8C78.4 482.2 78.7 483.5 79.0 484.9C79.4 486.2 79.7 487.6 80.1 488.9C80.5 490.3 80.9 491.6 81.3 492.9C81.7 494.2 82.1 495.5 82.6 496.7C83.1 498.0 83.6 499.2 84.1 500.4C84.7 501.6 85.2 502.8 85.8 504.0C86.5 505.1 87.1 506.2 87.8 507.2C88.5 508.3 89.3 509.3 90.1 510.3C90.9 511.3 91.8 512.2 92.7 513.0C93.6 513.9 94.6 514.7 95.6 515.5C96.7 516.2 97.8 516.9 98.9 517.5C100.0 518.2 101.2 518.7 102.4 519.2C103.7 519.7 104.9 520.2 106.2 520.5C107.5 520.9 108.8 521.2 110.1 521.4C111.4 521.6 112.7 521.8 114.0 521.9C115.4 521.9 116.7 521.9 118.0 521.8C119.3 521.7 120.6 521.6 121.9 521.3C123.2 521.1 124.4 520.8 125.7 520.4C126.9 520.0 128.1 519.5 129.3 519.0C130.6 518.5 131.7 517.9 132.9 517.3C134.1 516.6 135.3 515.9 136.4 515.2C137.6 514.5 138.7 513.8 139.9 513.0C141.0 512.2 142.1 511.4 143.2 510.6C144.3 509.7 145.4 508.9 146.5 508.0C147.6 507.2 148.7 506.3 149.7 505.4C150.8 504.6 151.9 503.7 152.9 502.9C154.0 502.0 155.0 501.2 156.1 500.3C157.1 499.5 158.1 498.6 159.2 497.8C160.2 496.9 161.2 496.1 162.3 495.3C163.3 494.4 164.3 493.6 165.3 492.8C166.3 491.9 167.4 491.1 168.4 490.3C169.4 489.5 170.4 488.6 171.4 487.8C172.5 487.0 173.5 486.2 174.5 485.3C175.5 484.5 176.5 483.7 177.6 482.9C178.6 482.1 179.6 481.3 180.6 480.5C181.7 479.6 182.7 478.8 183.7 478.0C184.8 477.2 185.8 476.4 186.8 475.6C187.9 474.8 188.9 474.0 189.9 473.2C191.0 472.4 192.0 471.6 193.1 470.7C194.1 469.9 195.2 469.1 196.2 468.3C197.2 467.5 198.3 466.7 199.3 465.9C200.4 465.1 201.4 464.3 202.5 463.5C203.5 462.7 204.6 461.9 205.7 461.1C206.7 460.3 207.8 459.5 208.8 458.7C209.9 457.9 211.0 457.1 212.0 456.3C213.1 455.6 214.1 454.8 215.2 454.0C216.3 453.2 217.3 452.4 218.4 451.6C219.5 450.8 220.5 450.0 221.6 449.2C222.7 448.4 223.8 447.6 224.8 446.8C225.9 446.0 227.0 445.2 228.1 444.4C229.1 443.7 230.2 442.9 231.3 442.1C232.4 441.3 233.5 440.5 234.5 439.7C235.6 438.9 236.7 438.1 237.8 437.3C238.9 436.5 240.0 435.7 241.1 434.9C242.2 434.1 243.2 433.4 244.3 432.6C245.4 431.8 246.5 431.0 247.6 430.2C248.7 429.4 249.8 428.6 250.9 427.8C252.0 427.0 253.1 426.2 254.2 425.4C255.3 424.6 256.4 423.8 257.5 423.0C258.6 422.3 259.7 421.5 260.8 420.7C261.9 419.9 263.0 419.1 264.2 418.3C265.3 417.5 266.4 416.7 267.5 415.9C268.6 415.1 269.7 414.3 270.8 413.5C271.9 412.7 273.1 412.0 274.2 411.2C275.3 410.4 276.4 409.6 277.5 408.8C278.7 408.0 279.8 407.2 280.9 406.5C282.0 405.7 283.1 404.9 284.3 404.1C285.4 403.3 286.5 402.6 287.6 401.8C288.8 401.0 289.9 400.2 291.0 399.5C292.2 398.7 293.3 397.9 294.4 397.2C295.6 396.4 296.7 395.6 297.8 394.9C299.0 394.1 300.1 393.4 301.2 392.6C302.4 391.8 303.5 391.1 304.6 390.3C305.8 389.6 306.9 388.9 308.1 388.1C309.2 387.4 310.3 386.6 311.5 385.9C312.6 385.2 313.8 384.4 314.9 383.7C316.1 383.0 317.2 382.2 318.4 381.5C319.5 380.8 320.7 380.1 321.8 379.4C323.0 378.7 324.1 377.9 325.3 377.2C326.4 376.5 327.6 375.8 328.7 375.1C329.9 374.4 331.0 373.7 332.2 373.0C333.3 372.3 334.5 371.7 335.7 371.0C336.8 370.3 338.0 369.6 339.1 368.9C340.3 368.2 341.5 367.6 342.6 366.9C343.8 366.2 345.0 365.6 346.1 364.9C347.3 364.2 348.4 363.6 349.6 362.9C350.8 362.2 351.9 361.6 353.1 360.9C354.3 360.3 355.5 359.6 356.6 359.0C357.8 358.3 359.0 357.7 360.1 357.0C361.3 356.4 362.5 355.7 363.7 355.1C364.8 354.5 366.0 353.8 367.2 353.2C368.4 352.6 369.5 351.9 370.7 351.3C371.9 350.7 373.1 350.1 374.2 349.4C375.4 348.8 376.6 348.2 377.8 347.6C379.0 347.0 380.1 346.3 381.3 345.7C382.5 345.1 383.7 344.5 384.9 343.9C386.1 343.3 387.2 342.7 388.4 342.1C389.6 341.5 390.8 340.9 392.0 340.3C393.2 339.7 394.3 339.1 395.5 338.5C396.7 337.9 397.9 337.3 399.1 336.7C400.3 336.1 401.5 335.5 402.7 334.9C403.9 334.3 405.1 333.7 406.2 333.2C407.4 332.6 408.6 332.0 409.8 331.4C411.0 330.8 412.2 330.2 413.4 329.7C414.6 329.1 415.8 328.5 417.0 327.9C418.2 327.4 419.4 326.8 420.6 326.2C421.8 325.6 423.0 325.1 424.2 324.5C425.4 323.9 426.6 323.4 427.8 322.8C429.0 322.2 430.2 321.7 431.4 321.1C432.6 320.5 433.8 320.0 435.0 319.4C436.2 318.8 437.4 318.3 438.6 317.7C439.8 317.2 441.0 316.6 442.2 316.0C443.4 315.5 444.6 314.9 445.8 314.4C447.0 313.8 448.2 313.3 449.4 312.7C450.6 312.2 451.8 311.6 453.1 311.0C454.3 310.5 455.5 309.9 456.7 309.4C457.9 308.8 459.1 308.3 460.3 307.7C461.5 307.2 462.7 306.6 463.9 306.1C465.1 305.5 466.4 305.0 467.6 304.5C468.8 303.9 470.0 303.4 471.2 302.8C472.4 302.3 473.6 301.7 474.8 301.2C476.1 300.7 477.3 300.1 478.5 299.6C479.7 299.0 480.9 298.5 482.1 298.0C483.3 297.4 484.6 296.9 485.8 296.3C487.0 295.8 488.2 295.3 489.4 294.7C490.6 294.2 491.9 293.7 493.1 293.1C494.3 292.6 495.5 292.1 496.7 291.5C498.0 291.0 499.2 290.5 500.4 289.9C501.6 289.4 502.8 288.9 504.1 288.4C505.3 287.8 506.5 287.3 507.7 286.8C508.9 286.3 510.2 285.7 511.4 285.2C512.6 284.7 513.8 284.2 515.1 283.6C516.3 283.1 517.5 282.6 518.7 282.1C520.0 281.5 521.2 281.0 522.4 280.5C523.6 280.0 524.9 279.5 526.1 278.9C527.3 278.4 528.5 277.9 529.8 277.4C531.0 276.9 532.2 276.4 533.5 275.8C534.7 275.3 535.9 274.8 537.2 274.3C538.4 273.8 539.6 273.3 540.8 272.8C542.1 272.2 543.3 271.7 544.5 271.2C545.8 270.7 547.0 270.2 548.2 269.7C549.5 269.2 550.7 268.7 551.9 268.2C553.2 267.7 554.4 267.2 555.6 266.7C556.9 266.1 558.1 265.6 559.3 265.1C560.6 264.6 561.8 264.1 563.0 263.6C564.3 263.1 565.5 262.6 566.8 262.1C568.0 261.6 569.2 261.1 570.5 260.6C571.7 260.1 572.9 259.6 574.2 259.1C575.4 258.6 576.7 258.1 577.9 257.6C579.1 257.1 580.4 256.6 581.6 256.1C582.9 255.6 584.1 255.1 585.4 254.6C586.6 254.1 587.8 253.7 589.1 253.2C590.3 252.7 591.6 252.2 592.8 251.7C594.0 251.2 595.3 250.7 596.5 250.2C597.8 249.7 599.0 249.2 600.3 248.7C601.5 248.2 602.8 247.8 604.0 247.3C605.3 246.8 606.5 246.3 607.7 245.8C609.0 245.3 610.2 244.8 611.5 244.3C612.7 243.9 614.0 243.4 615.2 242.9C616.5 242.4 617.7 241.9 619.0 241.4C620.2 240.9 621.5 240.5 622.7 240.0C624.0 239.5 625.2 239.0 626.5 238.5C627.7 238.0 629.0 237.6 630.2 237.1C631.5 236.6 632.7 236.1 634.0 235.6C635.2 235.2 636.5 234.7 637.8 234.2C639.0 233.7 640.3 233.3 641.5 232.8C642.8 232.3 644.0 231.8 645.3 231.4C646.5 230.9 647.8 230.4 649.0 229.9C650.3 229.5 651.6 229.0 652.8 228.5C654.1 228.0 655.3 227.6 656.6 227.1C657.8 226.6 659.1 226.1 660.4 225.7C661.6 225.2 662.9 224.7 664.1 224.3C665.4 223.8 666.7 223.3 667.9 222.8C669.2 222.4 670.4 221.9 671.7 221.4C673.0 221.0 674.2 220.5 675.5 220.0C676.7 219.6 678.0 219.1 679.3 218.6C680.5 218.2 681.8 217.7 683.0 217.2C684.3 216.8 685.6 216.3 686.8 215.8C688.1 215.4 689.4 214.9 690.6 214.4C691.9 214.0 693.2 213.5 694.4 213.0C695.7 212.6 697.0 212.1 698.2 211.7C699.5 211.2 700.8 210.7 702.0 210.3C703.3 209.8 704.6 209.3 705.8 208.9C707.1 208.4 708.4 208.0 709.6 207.5C710.9 207.0 712.2 206.6 713.4 206.1C714.7 205.7 716.0 205.2 717.2 204.8C718.5 204.3 719.8 203.8 721.0 203.4C722.3 202.9 723.6 202.5 724.9 202.0C726.1 201.6 727.4 201.1 728.7 200.6C729.9 200.2 731.2 199.7 732.5 199.3C733.8 198.8 735.0 198.4 736.3 197.9C737.6 197.5 738.8 197.0 740.1 196.6C741.4 196.1 742.7 195.7 743.9 195.2C745.2 194.8 746.5 194.3 747.8 193.9C749.0 193.4 750.3 193.0 751.6 192.6C752.9 192.1 754.1 191.7 755.4 191.2C756.7 190.8 758.0 190.3 759.3 189.9C760.5 189.5 761.8 189.0 763.1 188.6C764.4 188.1 765.6 187.7 766.9 187.3C768.2 186.8 769.5 186.4 770.8 186.0C772.0 185.5 773.3 185.1 774.6 184.7C775.9 184.2 777.2 183.8 778.4 183.4C779.7 183.0 781.0 182.5 782.3 182.1C783.6 181.7 784.8 181.3 786.1 180.8C787.4 180.4 788.7 180.0 790.0 179.6C791.2 179.2 792.5 178.7 793.8 178.3C795.1 177.9 796.4 177.5 797.7 177.1C798.9 176.7 800.2 176.3 801.5 175.9C802.8 175.4 804.1 175.0 805.4 174.6C806.6 174.2 807.9 173.8 809.2 173.4C810.5 173.0 811.8 172.6 813.1 172.2C814.4 171.8 815.6 171.4 816.9 171.0C818.2 170.6 819.5 170.2 820.8 169.8C822.1 169.5 823.4 169.1 824.7 168.7C825.9 168.3 827.2 167.9 828.5 167.5C829.8 167.1 831.1 166.8 832.4 166.4C833.7 166.0 835.0 165.6 836.3 165.2C837.5 164.9 838.8 164.5 840.1 164.1C841.4 163.8 842.7 163.4 844.0 163.0C845.3 162.7 846.6 162.3 847.9 161.9C849.2 161.6 850.4 161.2 851.7 160.9C853.0 160.5 854.3 160.1 855.6 159.8C856.9 159.4 858.2 159.1 859.5 158.7C860.8 158.4 862.1 158.1 863.4 157.7C864.7 157.4 866.0 157.0 867.2 156.7C868.5 156.4 869.8 156.0 871.1 155.7C872.4 155.4 873.7 155.0 875.0 154.7C876.3 154.4 877.6 154.0 878.9 153.7C880.2 153.4 881.5 153.1 882.8 152.8C884.1 152.5 885.4 152.1 886.7 151.8C888.0 151.5 889.3 151.2 890.6 150.9C891.9 150.6 893.2 150.3 894.5 150.0C895.8 149.7 897.1 149.4 898.3 149.1C899.6 148.8 900.9 148.5 902.2 148.3C903.5 148.0 904.8 147.7 906.1 147.4C907.4 147.1 908.7 146.8 910.0 146.6C911.3 146.3 912.6 146.0 913.9 145.8C915.2 145.5 916.5 145.2 917.8 145.0C919.1 144.7 920.4 144.4 921.7 144.2C923.0 143.9 924.3 143.7 925.6 143.4C926.9 143.2 928.2 142.9 929.5 142.7C930.8 142.5 932.1 142.2 933.4 142.0C934.8 141.8 936.1 141.5 937.4 141.3C938.7 141.1 940.0 140.8 941.3 140.6C942.6 140.4 943.9 140.2 945.2 140.0C946.5 139.8 947.8 139.5 949.1 139.3C950.4 139.1 951.7 138.9 953.0 138.7C954.3 138.5 955.6 138.3 956.9 138.1C958.2 138.0 960.2 137.7 960.8 137.6"/></defs>
<use href="#r_bt" class="ln" stroke="#bc5640" style="stroke-width:3.4px;stroke-opacity:0.28"/>
<use href="#r_bt" class="ln" stroke="#bc5640" style="stroke-width:2.1px"/>
<defs><path id="b_bt" d="M45.2 176.8C45.6 177.0 47.2 178.0 47.7 178.4C48.2 178.7 47.9 178.3 48.2 179.0C48.5 179.6 49.3 181.1 49.6 182.4C49.9 183.6 50.0 185.7 50.1 186.5C50.2 187.3 50.1 186.6 50.1 187.3C50.2 188.0 50.2 189.4 50.3 190.7C50.4 191.9 50.4 193.4 50.5 194.8C50.6 196.1 50.6 197.5 50.7 198.8C50.8 200.1 50.8 201.8 50.9 202.8C50.9 203.9 51.0 204.4 51.0 205.0C51.0 205.7 51.0 205.8 51.1 206.8C51.1 207.8 51.2 209.5 51.3 210.8C51.3 212.1 51.4 213.5 51.5 214.8C51.5 216.1 51.6 217.5 51.7 218.8C51.8 220.1 51.8 221.5 51.9 222.8C52.0 224.1 52.1 225.5 52.2 226.8C52.2 228.1 52.3 229.5 52.4 230.8C52.5 232.1 52.6 233.5 52.7 234.8C52.8 236.1 52.8 237.5 52.9 238.8C53.0 240.1 53.1 241.5 53.2 242.8C53.3 244.1 53.4 245.5 53.5 246.8C53.6 248.1 53.7 249.5 53.8 250.8C53.9 252.1 54.0 253.5 54.1 254.8C54.2 256.1 54.3 257.5 54.4 258.8C54.5 260.2 54.6 261.5 54.7 262.8C54.8 264.2 54.9 265.5 55.0 266.8C55.1 268.2 55.3 269.5 55.4 270.8C55.5 272.2 55.6 273.5 55.7 274.9C55.8 276.2 55.9 277.5 56.1 278.9C56.2 280.2 56.3 281.5 56.4 282.9C56.5 284.2 56.7 285.6 56.8 286.9C56.9 288.2 57.0 289.6 57.1 290.9C57.3 292.2 57.4 293.6 57.5 294.9C57.6 296.3 57.8 297.6 57.9 298.9C58.0 300.3 58.1 301.6 58.3 303.0C58.4 304.3 58.5 305.6 58.6 307.0C58.8 308.3 58.9 309.7 59.0 311.0C59.2 312.3 59.3 313.7 59.4 315.0C59.5 316.4 59.7 317.7 59.8 319.0C59.9 320.4 60.1 321.7 60.2 323.1C60.3 324.4 60.4 325.7 60.6 327.1C60.7 328.4 60.8 329.7 61.0 331.1C61.1 332.4 61.2 333.8 61.3 335.1C61.5 336.4 61.6 337.8 61.7 339.1C61.9 340.5 62.0 341.8 62.1 343.1C62.2 344.5 62.4 345.8 62.5 347.1C62.6 348.5 62.7 349.8 62.9 351.1C63.0 352.5 63.1 353.8 63.2 355.2C63.4 356.5 63.5 357.8 63.6 359.2C63.7 360.5 63.8 361.8 64.0 363.2C64.1 364.5 64.2 365.8 64.3 367.2C64.4 368.5 64.6 369.8 64.7 371.2C64.8 372.5 64.9 373.8 65.0 375.2C65.1 376.5 65.2 377.8 65.3 379.2C65.5 380.5 65.6 381.8 65.7 383.2C65.8 384.5 65.9 385.8 66.0 387.1C66.1 388.5 66.2 389.8 66.4 391.1C66.5 392.5 66.6 393.8 66.7 395.1C66.8 396.4 66.9 397.8 67.1 399.1C67.2 400.4 67.3 401.8 67.4 403.1C67.6 404.4 67.7 405.7 67.8 407.1C68.0 408.4 68.1 409.7 68.3 411.0C68.4 412.4 68.5 413.7 68.7 415.0C68.9 416.3 69.0 417.7 69.2 419.0C69.4 420.3 69.5 421.6 69.7 423.0C69.9 424.3 70.1 425.6 70.3 426.9C70.5 428.2 70.7 429.6 70.9 430.9C71.1 432.2 71.3 433.5 71.5 434.9C71.8 436.2 72.0 437.5 72.2 438.8C72.5 440.2 72.7 441.5 73.0 442.8C73.3 444.1 73.5 445.4 73.8 446.8C74.1 448.1 74.4 449.4 74.7 450.7C75.0 452.0 75.3 453.4 75.7 454.7C76.0 456.0 76.3 457.3 76.7 458.7C77.0 460.0 77.4 461.3 77.8 462.6C78.2 463.9 78.6 465.3 79.0 466.6C79.4 467.9 79.8 469.2 80.2 470.5C80.7 471.9 81.1 473.2 81.6 474.5C82.1 475.8 82.5 477.2 83.1 478.4C83.6 479.7 84.1 481.0 84.7 482.3C85.2 483.5 85.8 484.7 86.5 485.9C87.1 487.0 87.8 488.1 88.6 489.1C89.3 490.1 90.1 491.0 91.0 491.8C91.9 492.6 92.8 493.3 93.8 493.8C94.8 494.4 95.9 494.8 97.1 495.1C98.2 495.4 99.5 495.6 100.7 495.7C101.9 495.8 103.2 495.8 104.5 495.6C105.8 495.5 107.1 495.3 108.3 495.0C109.6 494.7 110.8 494.3 112.1 493.8C113.3 493.4 114.5 492.8 115.7 492.2C116.8 491.6 118.0 490.9 119.1 490.2C120.3 489.5 121.4 488.7 122.5 487.9C123.6 487.0 124.7 486.2 125.8 485.3C126.9 484.3 127.9 483.4 128.9 482.4C130.0 481.4 131.0 480.4 132.0 479.4C133.0 478.4 134.0 477.3 135.0 476.3C136.0 475.2 137.0 474.2 137.9 473.1C138.9 472.1 139.8 471.0 140.8 470.0C141.7 468.9 142.7 467.9 143.6 466.8C144.5 465.8 145.4 464.8 146.3 463.8C147.3 462.8 148.2 461.7 149.1 460.7C149.9 459.7 150.8 458.8 151.7 457.8C152.6 456.8 153.5 455.8 154.4 454.8C155.3 453.8 156.1 452.9 157.0 451.9C157.9 450.9 158.8 449.9 159.6 449.0C160.5 448.0 161.4 447.0 162.3 446.1C163.1 445.1 164.0 444.1 164.9 443.2C165.8 442.2 166.7 441.2 167.6 440.3C168.4 439.3 169.3 438.3 170.2 437.4C171.1 436.4 172.0 435.5 172.9 434.5C173.8 433.5 174.7 432.6 175.6 431.6C176.4 430.6 177.3 429.7 178.2 428.7C179.1 427.8 180.0 426.8 180.9 425.8C181.9 424.9 182.8 423.9 183.7 423.0C184.6 422.0 185.5 421.1 186.4 420.1C187.3 419.1 188.2 418.2 189.1 417.2C190.1 416.3 191.0 415.3 191.9 414.4C192.8 413.4 193.7 412.5 194.7 411.5C195.6 410.6 196.5 409.6 197.5 408.7C198.4 407.7 199.3 406.8 200.3 405.9C201.2 404.9 202.2 404.0 203.1 403.0C204.0 402.1 205.0 401.1 205.9 400.2C206.9 399.3 207.8 398.3 208.8 397.4C209.8 396.5 210.7 395.5 211.7 394.6C212.6 393.6 213.6 392.7 214.6 391.8C215.5 390.9 216.5 389.9 217.5 389.0C218.5 388.1 219.4 387.1 220.4 386.2C221.4 385.3 222.4 384.4 223.4 383.5C224.4 382.5 225.3 381.6 226.3 380.7C227.3 379.8 228.3 378.9 229.3 378.0C230.3 377.0 231.3 376.1 232.3 375.2C233.3 374.3 234.3 373.4 235.4 372.5C236.4 371.6 237.4 370.7 238.4 369.8C239.4 368.9 240.4 368.0 241.5 367.1C242.5 366.2 243.5 365.3 244.5 364.4C245.6 363.5 246.6 362.7 247.6 361.8C248.7 360.9 249.7 360.0 250.7 359.1C251.8 358.3 252.8 357.4 253.8 356.5C254.9 355.6 255.9 354.8 257.0 353.9C258.0 353.0 259.1 352.2 260.1 351.3C261.2 350.5 262.2 349.6 263.3 348.7C264.4 347.9 265.4 347.0 266.5 346.2C267.5 345.4 268.6 344.5 269.7 343.7C270.7 342.8 271.8 342.0 272.9 341.2C274.0 340.3 275.0 339.5 276.1 338.7C277.2 337.9 278.3 337.0 279.3 336.2C280.4 335.4 281.5 334.6 282.6 333.8C283.7 333.0 284.8 332.2 285.9 331.4C287.0 330.6 288.0 329.8 289.1 329.0C290.2 328.2 291.3 327.4 292.4 326.6C293.5 325.8 294.6 325.1 295.7 324.3C296.8 323.5 297.9 322.7 299.0 322.0C300.1 321.2 301.3 320.4 302.4 319.7C303.5 318.9 304.6 318.2 305.7 317.4C306.8 316.7 307.9 315.9 309.0 315.2C310.2 314.5 311.3 313.7 312.4 313.0C313.5 312.3 314.6 311.6 315.8 310.8C316.9 310.1 318.0 309.4 319.1 308.7C320.3 308.0 321.4 307.3 322.5 306.6C323.7 305.9 324.8 305.2 325.9 304.5C327.1 303.8 328.2 303.2 329.3 302.5C330.5 301.8 331.6 301.1 332.7 300.5C333.9 299.8 335.0 299.1 336.2 298.5C337.3 297.8 338.5 297.2 339.6 296.5C340.7 295.9 341.9 295.3 343.0 294.6C344.2 294.0 345.3 293.3 346.5 292.7C347.6 292.1 348.8 291.5 350.0 290.8C351.1 290.2 352.3 289.6 353.4 289.0C354.6 288.3 355.7 287.7 356.9 287.1C358.1 286.5 359.2 285.9 360.4 285.3C361.5 284.7 362.7 284.0 363.9 283.4C365.0 282.8 366.2 282.2 367.4 281.6C368.5 281.0 369.7 280.4 370.9 279.8C372.0 279.2 373.2 278.6 374.4 278.0C375.6 277.4 376.7 276.8 377.9 276.2C379.1 275.5 380.3 274.9 381.4 274.3C382.6 273.7 383.8 273.1 385.0 272.5C386.2 271.9 387.3 271.3 388.5 270.7C389.7 270.0 390.9 269.4 392.1 268.8C393.3 268.2 394.4 267.6 395.6 266.9C396.8 266.3 398.0 265.7 399.2 265.1C400.4 264.5 401.6 263.8 402.8 263.2C404.0 262.6 405.1 261.9 406.3 261.3C407.5 260.7 408.7 260.1 409.9 259.4C411.1 258.8 412.3 258.2 413.5 257.6C414.7 256.9 415.9 256.3 417.1 255.7C418.3 255.1 419.5 254.4 420.7 253.8C421.9 253.2 423.1 252.6 424.3 252.0C425.5 251.3 426.7 250.7 427.9 250.1C429.1 249.5 430.3 248.9 431.5 248.3C432.7 247.7 434.0 247.0 435.2 246.4C436.4 245.8 437.6 245.2 438.8 244.6C440.0 244.0 441.2 243.4 442.4 242.8C443.6 242.3 444.8 241.7 446.1 241.1C447.3 240.5 448.5 239.9 449.7 239.3C450.9 238.8 452.1 238.2 453.3 237.6C454.6 237.0 455.8 236.5 457.0 235.9C458.2 235.3 459.4 234.8 460.6 234.2C461.9 233.6 463.1 233.1 464.3 232.5C465.5 232.0 466.7 231.4 468.0 230.8C469.2 230.3 470.4 229.7 471.6 229.2C472.9 228.6 474.1 228.1 475.3 227.5C476.5 227.0 477.8 226.5 479.0 225.9C480.2 225.4 481.4 224.8 482.7 224.3C483.9 223.8 485.1 223.2 486.3 222.7C487.6 222.1 488.8 221.6 490.0 221.1C491.3 220.5 492.5 220.0 493.7 219.5C494.9 218.9 496.2 218.4 497.4 217.9C498.6 217.3 499.9 216.8 501.1 216.3C502.3 215.8 503.6 215.2 504.8 214.7C506.0 214.2 507.3 213.6 508.5 213.1C509.7 212.6 511.0 212.1 512.2 211.5C513.4 211.0 514.7 210.5 515.9 210.0C517.1 209.4 518.4 208.9 519.6 208.4C520.8 207.8 522.1 207.3 523.3 206.8C524.5 206.3 525.8 205.7 527.0 205.2C528.3 204.7 529.5 204.2 530.7 203.6C532.0 203.1 533.2 202.6 534.4 202.0C535.7 201.5 536.9 201.0 538.2 200.4C539.4 199.9 540.6 199.4 541.9 198.8C543.1 198.3 544.3 197.8 545.6 197.2C546.8 196.7 548.1 196.1 549.3 195.6C550.5 195.1 551.8 194.5 553.0 194.0C554.3 193.4 555.5 192.9 556.7 192.3C558.0 191.8 559.2 191.3 560.5 190.7C561.7 190.2 563.0 189.6 564.2 189.1C565.4 188.5 566.7 188.0 567.9 187.5C569.2 186.9 570.4 186.4 571.7 185.9C572.9 185.3 574.1 184.8 575.4 184.3C576.6 183.7 577.9 183.2 579.1 182.7C580.4 182.1 581.6 181.6 582.9 181.1C584.1 180.6 585.4 180.1 586.6 179.6C587.9 179.0 589.1 178.5 590.4 178.0C591.6 177.5 592.9 177.0 594.1 176.5C595.4 176.0 596.6 175.6 597.9 175.1C599.1 174.6 600.4 174.1 601.6 173.6C602.9 173.2 604.1 172.7 605.4 172.2C606.7 171.8 607.9 171.3 609.2 170.9C610.4 170.4 611.7 170.0 613.0 169.5C614.2 169.1 615.5 168.7 616.7 168.3C618.0 167.9 619.3 167.4 620.5 167.0C621.8 166.6 623.1 166.2 624.3 165.9C625.6 165.5 626.9 165.1 628.2 164.7C629.4 164.4 630.7 164.0 632.0 163.7C633.3 163.3 634.5 163.0 635.8 162.7C637.1 162.3 638.4 162.0 639.6 161.7C640.9 161.4 642.2 161.1 643.5 160.8C644.8 160.5 646.0 160.3 647.3 160.0C648.6 159.7 649.9 159.5 651.2 159.3C652.5 159.0 653.8 158.8 655.1 158.6C656.4 158.4 657.7 158.2 659.0 158.0C660.2 157.8 661.5 157.6 662.8 157.5C664.1 157.3 665.4 157.1 666.7 157.0C668.0 156.9 669.4 156.7 670.7 156.6C672.0 156.5 673.3 156.3 674.6 156.2C675.9 156.1 677.2 156.0 678.5 155.9C679.8 155.8 681.2 155.7 682.5 155.6C683.8 155.5 685.1 155.4 686.4 155.3C687.8 155.2 689.1 155.1 690.4 155.0C691.7 154.9 693.1 154.9 694.4 154.8C695.7 154.7 697.1 154.6 698.4 154.5C699.7 154.4 701.1 154.3 702.4 154.2C703.7 154.1 705.1 154.0 706.4 153.9C707.8 153.8 709.1 153.7 710.5 153.5C711.8 153.4 713.2 153.3 714.5 153.1C715.9 153.0 717.2 152.9 718.6 152.7C720.0 152.5 721.3 152.4 722.7 152.2C724.0 152.0 725.4 151.8 726.8 151.6C728.1 151.4 729.5 151.2 730.9 151.0C732.3 150.8 733.6 150.5 735.0 150.3C736.4 150.0 738.5 149.6 739.2 149.4"/></defs>
<use href="#b_bt" class="ln" stroke="#4f69ad" style="stroke-width:3.4px;stroke-opacity:0.28"/>
<use href="#b_bt" class="ln" stroke="#4f69ad" style="stroke-width:2.1px"/>
<defs><path id="o_bt" d="M45.0 210.9C45.3 211.3 46.5 212.6 47.0 213.2C47.4 213.7 47.2 213.4 47.6 214.2C47.9 215.0 48.7 216.6 49.0 217.9C49.4 219.1 49.5 220.6 49.7 221.8C49.9 223.0 49.9 224.3 50.0 224.9C50.1 225.6 50.0 225.0 50.1 225.8C50.2 226.7 50.3 228.5 50.5 229.9C50.6 231.2 50.7 232.6 50.9 233.9C51.0 235.2 51.2 236.6 51.3 237.9C51.4 239.2 51.6 240.6 51.7 241.9C51.8 243.2 52.0 244.6 52.1 245.9C52.2 247.2 52.4 249.2 52.5 249.9C52.6 250.6 52.4 249.3 52.5 250.0C52.6 250.7 52.7 252.6 52.9 253.9C53.0 255.3 53.1 256.6 53.2 257.9C53.3 259.3 53.4 260.6 53.5 262.0C53.6 263.3 53.7 264.7 53.8 266.0C53.9 267.3 54.0 268.7 54.1 270.0C54.2 271.4 54.3 272.7 54.4 274.1C54.5 275.4 54.6 276.7 54.7 278.1C54.8 279.4 54.9 280.8 55.0 282.1C55.1 283.5 55.2 284.8 55.3 286.1C55.4 287.5 55.5 288.8 55.6 290.2C55.7 291.5 55.8 292.9 55.9 294.2C56.0 295.5 56.1 296.9 56.2 298.2C56.3 299.6 56.4 300.9 56.6 302.2C56.7 303.6 56.8 304.9 56.9 306.2C57.0 307.6 57.2 308.9 57.3 310.2C57.4 311.6 57.6 312.9 57.7 314.2C57.9 315.5 58.0 316.9 58.2 318.2C58.3 319.5 58.5 320.8 58.6 322.2C58.8 323.5 59.0 324.8 59.1 326.1C59.3 327.5 59.5 328.8 59.6 330.1C59.8 331.4 60.0 332.7 60.2 334.1C60.3 335.4 60.5 336.7 60.7 338.0C60.9 339.3 61.1 340.6 61.3 342.0C61.5 343.3 61.6 344.6 61.8 345.9C62.0 347.2 62.2 348.5 62.4 349.9C62.6 351.2 62.8 352.5 63.0 353.8C63.2 355.1 63.4 356.4 63.6 357.8C63.8 359.1 64.0 360.4 64.2 361.7C64.4 363.0 64.6 364.4 64.8 365.7C65.0 367.0 65.2 368.3 65.4 369.6C65.5 370.9 65.7 372.3 65.9 373.6C66.1 374.9 66.3 376.2 66.5 377.6C66.7 378.9 66.9 380.2 67.1 381.5C67.3 382.9 67.4 384.2 67.6 385.5C67.8 386.8 68.0 388.2 68.2 389.5C68.3 390.8 68.5 392.2 68.7 393.5C68.9 394.8 69.0 396.2 69.2 397.5C69.3 398.8 69.5 400.2 69.7 401.5C69.8 402.9 70.0 404.2 70.1 405.6C70.3 406.9 70.4 408.3 70.5 409.6C70.7 411.0 70.8 412.3 71.0 413.7C71.1 415.0 71.2 416.4 71.3 417.7C71.4 419.1 71.6 420.5 71.7 421.8C71.8 423.2 71.9 424.5 72.0 425.9C72.1 427.3 72.2 428.6 72.4 430.0C72.5 431.4 72.6 432.7 72.7 434.1C72.9 435.4 73.0 436.8 73.2 438.2C73.3 439.5 73.5 440.9 73.7 442.2C73.9 443.6 74.1 444.9 74.3 446.2C74.5 447.6 74.8 448.9 75.0 450.2C75.3 451.5 75.6 452.9 75.9 454.2C76.2 455.5 76.6 456.8 77.0 458.1C77.3 459.4 77.7 460.6 78.2 461.9C78.6 463.2 79.1 464.4 79.6 465.7C80.1 466.9 80.7 468.2 81.3 469.4C81.9 470.6 82.5 471.9 83.2 473.1C83.9 474.3 84.6 475.4 85.4 476.6C86.2 477.8 87.0 478.9 87.9 480.1C88.7 481.2 89.7 482.3 90.6 483.4C91.6 484.4 92.6 485.4 93.6 486.3C94.6 487.2 95.6 488.1 96.7 488.8C97.7 489.5 98.8 490.2 99.9 490.7C101.0 491.2 102.0 491.5 103.1 491.8C104.2 492.0 105.3 492.1 106.3 492.0C107.4 492.0 108.5 491.8 109.5 491.5C110.6 491.2 111.7 490.8 112.7 490.3C113.8 489.9 114.8 489.3 115.9 488.7C117.0 488.0 118.0 487.3 119.0 486.6C120.1 485.8 121.1 485.0 122.2 484.2C123.2 483.4 124.3 482.6 125.3 481.7C126.3 480.9 127.4 480.0 128.4 479.1C129.4 478.3 130.5 477.4 131.5 476.5C132.5 475.6 133.5 474.7 134.5 473.7C135.6 472.8 136.6 471.9 137.6 471.0C138.6 470.0 139.6 469.1 140.6 468.1C141.6 467.2 142.6 466.2 143.6 465.3C144.7 464.3 145.7 463.3 146.7 462.4C147.7 461.4 148.7 460.4 149.6 459.5C150.6 458.5 151.6 457.6 152.6 456.6C153.6 455.6 154.6 454.7 155.6 453.7C156.6 452.7 157.6 451.8 158.6 450.8C159.5 449.8 160.5 448.9 161.5 447.9C162.5 447.0 163.5 446.0 164.4 445.0C165.4 444.1 166.4 443.1 167.4 442.2C168.3 441.2 169.3 440.2 170.3 439.3C171.3 438.3 172.2 437.4 173.2 436.4C174.2 435.4 175.1 434.5 176.1 433.5C177.1 432.6 178.0 431.6 179.0 430.7C180.0 429.7 180.9 428.8 181.9 427.8C182.9 426.9 183.8 425.9 184.8 425.0C185.8 424.0 186.7 423.1 187.7 422.1C188.7 421.2 189.6 420.2 190.6 419.3C191.6 418.4 192.5 417.4 193.5 416.5C194.4 415.5 195.4 414.6 196.4 413.7C197.3 412.7 198.3 411.8 199.3 410.9C200.2 409.9 201.2 409.0 202.2 408.1C203.1 407.1 204.1 406.2 205.1 405.3C206.0 404.4 207.0 403.5 208.0 402.5C209.0 401.6 209.9 400.7 210.9 399.8C211.9 398.9 212.8 397.9 213.8 397.0C214.8 396.1 215.8 395.2 216.7 394.3C217.7 393.4 218.7 392.5 219.7 391.6C220.7 390.7 221.6 389.8 222.6 388.9C223.6 388.0 224.6 387.1 225.6 386.2C226.6 385.3 227.6 384.5 228.5 383.6C229.5 382.7 230.5 381.8 231.5 380.9C232.5 380.0 233.5 379.2 234.5 378.3C235.5 377.4 236.5 376.6 237.5 375.7C238.5 374.8 239.5 374.0 240.5 373.1C241.6 372.2 242.6 371.4 243.6 370.5C244.6 369.7 245.6 368.8 246.6 368.0C247.7 367.1 248.7 366.3 249.7 365.5C250.7 364.6 251.8 363.8 252.8 363.0C253.8 362.1 254.9 361.3 255.9 360.5C256.9 359.7 258.0 358.8 259.0 358.0C260.1 357.2 261.1 356.4 262.2 355.6C263.2 354.8 264.3 354.0 265.4 353.2C266.4 352.4 267.5 351.6 268.6 350.8C269.6 350.0 270.7 349.2 271.8 348.4C272.9 347.6 273.9 346.9 275.0 346.1C276.1 345.3 277.2 344.5 278.3 343.8C279.4 343.0 280.5 342.3 281.6 341.5C282.7 340.7 283.8 340.0 284.9 339.2C286.0 338.5 287.1 337.7 288.2 337.0C289.3 336.2 290.4 335.5 291.6 334.8C292.7 334.0 293.8 333.3 294.9 332.6C296.0 331.8 297.2 331.1 298.3 330.4C299.4 329.7 300.6 329.0 301.7 328.2C302.8 327.5 304.0 326.8 305.1 326.1C306.3 325.4 307.4 324.7 308.6 324.0C309.7 323.3 310.8 322.6 312.0 321.9C313.2 321.2 314.3 320.5 315.5 319.8C316.6 319.2 317.8 318.5 318.9 317.8C320.1 317.1 321.3 316.4 322.4 315.8C323.6 315.1 324.8 314.4 325.9 313.8C327.1 313.1 328.3 312.4 329.5 311.8C330.6 311.1 331.8 310.5 333.0 309.8C334.2 309.2 335.3 308.5 336.5 307.9C337.7 307.2 338.9 306.6 340.1 305.9C341.3 305.3 342.4 304.6 343.6 304.0C344.8 303.4 346.0 302.7 347.2 302.1C348.4 301.5 349.6 300.9 350.8 300.2C352.0 299.6 353.2 299.0 354.4 298.4C355.6 297.7 356.8 297.1 358.0 296.5C359.2 295.9 360.4 295.3 361.6 294.7C362.8 294.1 364.0 293.5 365.2 292.9C366.4 292.3 367.6 291.7 368.8 291.1C370.0 290.5 371.2 289.9 372.4 289.3C373.7 288.7 374.9 288.1 376.1 287.5C377.3 286.9 378.5 286.4 379.7 285.8C380.9 285.2 382.1 284.6 383.4 284.0C384.6 283.5 385.8 282.9 387.0 282.3C388.2 281.8 389.4 281.2 390.6 280.6C391.9 280.0 393.1 279.5 394.3 278.9C395.5 278.4 396.7 277.8 398.0 277.2C399.2 276.7 400.4 276.1 401.6 275.6C402.8 275.0 404.1 274.5 405.3 273.9C406.5 273.4 407.7 272.8 408.9 272.3C410.2 271.7 411.4 271.2 412.6 270.6C413.8 270.1 415.1 269.5 416.3 269.0C417.5 268.5 418.7 267.9 420.0 267.4C421.2 266.9 422.4 266.3 423.7 265.8C424.9 265.3 426.1 264.7 427.3 264.2C428.6 263.7 429.8 263.1 431.0 262.6C432.3 262.1 433.5 261.6 434.7 261.0C436.0 260.5 437.2 260.0 438.4 259.5C439.6 259.0 440.9 258.4 442.1 257.9C443.3 257.4 444.6 256.9 445.8 256.4C447.0 255.9 448.3 255.4 449.5 254.8C450.8 254.3 452.0 253.8 453.2 253.3C454.5 252.8 455.7 252.3 456.9 251.8C458.2 251.3 459.4 250.8 460.6 250.3C461.9 249.8 463.1 249.3 464.4 248.8C465.6 248.3 466.8 247.7 468.1 247.2C469.3 246.7 470.5 246.2 471.8 245.7C473.0 245.2 474.3 244.7 475.5 244.2C476.7 243.8 478.0 243.3 479.2 242.8C480.5 242.3 481.7 241.8 482.9 241.3C484.2 240.8 485.4 240.3 486.7 239.8C487.9 239.3 489.1 238.8 490.4 238.3C491.6 237.8 492.9 237.3 494.1 236.8C495.4 236.3 496.6 235.8 497.8 235.4C499.1 234.9 500.3 234.4 501.6 233.9C502.8 233.4 504.1 232.9 505.3 232.4C506.5 231.9 507.8 231.4 509.0 230.9C510.3 230.5 511.5 230.0 512.8 229.5C514.0 229.0 515.2 228.5 516.5 228.0C517.7 227.5 519.0 227.0 520.2 226.5C521.5 226.1 522.7 225.6 524.0 225.1C525.2 224.6 526.4 224.1 527.7 223.6C528.9 223.1 530.2 222.6 531.4 222.2C532.7 221.7 533.9 221.2 535.2 220.7C536.4 220.2 537.6 219.7 538.9 219.2C540.1 218.7 541.4 218.2 542.6 217.7C543.9 217.3 545.1 216.8 546.4 216.3C547.6 215.8 548.8 215.3 550.1 214.8C551.3 214.3 552.6 213.8 553.8 213.3C555.1 212.8 556.3 212.3 557.6 211.8C558.8 211.3 560.0 210.8 561.3 210.3C562.5 209.9 563.8 209.4 565.0 208.9C566.3 208.4 567.5 207.9 568.7 207.4C570.0 206.9 571.2 206.4 572.5 205.9C573.7 205.4 575.0 204.9 576.2 204.4C577.4 203.9 578.7 203.4 579.9 202.8C581.2 202.3 582.4 201.8 583.7 201.3C584.9 200.8 586.1 200.3 587.4 199.8C588.6 199.3 589.9 198.8 591.1 198.3C592.3 197.8 593.6 197.3 594.8 196.7C596.1 196.2 597.3 195.7 598.6 195.2C599.8 194.7 601.0 194.2 602.3 193.6C603.5 193.1 604.8 192.6 606.0 192.1C607.2 191.6 608.5 191.0 609.7 190.5C610.9 190.0 612.2 189.5 613.4 189.0C614.7 188.4 615.9 187.9 617.1 187.4C618.4 186.9 619.6 186.3 620.9 185.8C622.1 185.3 623.3 184.8 624.6 184.3C625.8 183.7 627.1 183.2 628.3 182.7C629.5 182.2 630.8 181.6 632.0 181.1C633.3 180.6 634.5 180.1 635.7 179.6C637.0 179.0 638.2 178.5 639.5 178.0C640.7 177.5 641.9 177.0 643.2 176.4C644.4 175.9 645.7 175.4 646.9 174.9C648.1 174.4 649.4 173.9 650.6 173.4C651.9 172.8 653.1 172.3 654.4 171.8C655.6 171.3 656.9 170.8 658.1 170.3C659.3 169.8 660.6 169.3 661.8 168.8C663.1 168.3 664.3 167.8 665.6 167.3C666.8 166.8 668.1 166.3 669.3 165.8C670.6 165.3 671.8 164.8 673.1 164.4C674.3 163.9 675.6 163.4 676.8 162.9C678.1 162.4 679.3 161.9 680.6 161.5C681.8 161.0 683.1 160.5 684.3 160.1C685.6 159.6 686.9 159.1 688.1 158.7C689.4 158.2 690.6 157.7 691.9 157.3C693.2 156.8 694.4 156.4 695.7 155.9C696.9 155.5 698.2 155.0 699.5 154.6C700.7 154.1 702.0 153.7 703.3 153.3C704.5 152.8 705.8 152.4 707.1 152.0C708.3 151.6 709.6 151.1 710.9 150.7C712.1 150.3 713.4 149.9 714.7 149.5C715.9 149.1 717.2 148.7 718.5 148.3C719.8 147.9 721.0 147.5 722.3 147.1C723.6 146.7 724.9 146.4 726.2 146.0C727.4 145.6 728.7 145.2 730.0 144.9C731.3 144.5 732.6 144.1 733.9 143.8C735.2 143.4 736.4 143.1 737.7 142.8C739.0 142.4 740.3 142.1 741.6 141.7C742.9 141.4 744.2 141.1 745.5 140.8C746.8 140.5 748.1 140.1 749.4 139.8C750.7 139.5 752.0 139.2 753.3 138.9C754.6 138.6 755.9 138.4 757.2 138.1C758.5 137.8 759.8 137.5 761.1 137.3C762.4 137.0 763.8 136.7 765.1 136.5C766.4 136.2 767.7 136.0 769.0 135.8C770.3 135.5 771.7 135.3 773.0 135.1C774.3 134.9 775.6 134.6 777.0 134.4C778.3 134.2 779.6 134.0 780.9 133.8C782.3 133.7 783.6 133.5 784.9 133.3C786.3 133.1 787.6 133.0 789.0 132.8C790.3 132.6 791.6 132.5 793.0 132.4C794.3 132.2 796.3 132.0 797.0 132.0"/></defs>
<use href="#o_bt" class="ln" stroke="#dfa354" style="stroke-width:3.4px;stroke-opacity:0.28"/>
<use href="#o_bt" class="ln" stroke="#dfa354" style="stroke-width:2.1px"/>
<defs><path id="r_ror" d="M128.0 522.5C128.2 517.9 129.0 503.8 129.5 495.0C130.0 486.2 130.5 479.2 131.2 470.0C132.0 460.8 133.0 448.3 133.8 440.0C134.5 431.7 135.0 426.7 135.5 420.0C136.0 413.3 136.4 407.5 137.0 400.0C137.6 392.5 138.1 383.3 139.0 375.0C139.9 366.7 141.3 357.8 142.5 350.0C143.7 342.2 144.8 335.5 146.0 328.0C147.2 320.5 148.5 313.8 150.0 305.0C151.5 296.2 153.3 284.2 155.0 275.0C156.7 265.8 158.3 257.9 160.0 250.0C161.7 242.1 163.3 233.8 165.0 227.5C166.7 221.2 168.5 216.2 170.0 212.5C171.5 208.8 172.8 206.8 174.0 205.0C175.2 203.2 176.1 203.0 177.5 202.0C178.9 201.0 180.8 199.8 182.5 199.0C184.2 198.2 186.1 198.8 187.5 197.5C188.9 196.2 189.8 192.2 191.0 191.0C192.2 189.8 193.9 190.3 195.0 190.5C196.1 190.7 196.7 191.9 197.5 192.0C198.3 192.1 198.9 190.9 200.0 191.0C201.1 191.1 202.8 192.5 204.0 192.5C205.2 192.5 206.3 191.3 207.5 191.0C208.7 190.7 209.8 189.7 211.0 190.5C212.2 191.3 213.5 193.9 215.0 196.0C216.5 198.1 218.3 201.9 220.0 203.0C221.7 204.1 223.3 201.8 225.0 202.5C226.7 203.2 228.2 205.6 230.0 207.0C231.8 208.4 233.9 209.7 236.0 211.0C238.1 212.3 240.6 213.3 242.5 215.0C244.4 216.7 246.1 218.9 247.5 221.0C248.9 223.1 249.8 225.6 251.0 227.5C252.2 229.4 253.5 230.8 255.0 232.5C256.5 234.2 258.3 235.6 260.0 237.5C261.7 239.4 263.5 242.6 265.0 244.0C266.5 245.4 267.8 245.7 269.0 246.0C270.2 246.3 271.3 244.9 272.5 246.0C273.7 247.1 274.6 250.2 276.0 252.5C277.4 254.8 279.3 257.8 281.0 260.0C282.7 262.2 284.5 264.2 286.0 266.0C287.5 267.8 288.7 269.1 290.0 270.5C291.3 271.9 292.5 274.0 294.0 274.5C295.5 275.0 297.3 274.2 299.0 273.5C300.7 272.8 302.6 271.2 304.0 270.5C305.4 269.8 306.3 269.6 307.5 269.5C308.7 269.4 309.8 270.0 311.0 270.0C312.2 270.0 313.5 269.2 315.0 269.5C316.5 269.8 318.5 271.0 320.0 272.0C321.5 273.0 322.8 274.7 324.0 275.5C325.2 276.3 326.3 277.2 327.5 277.0C328.7 276.8 329.8 274.8 331.0 274.5C332.2 274.2 333.7 274.5 335.0 275.5C336.3 276.5 337.8 279.4 339.0 280.5C340.2 281.6 341.3 282.2 342.5 282.0C343.7 281.8 344.8 279.7 346.0 279.5C347.2 279.3 348.7 279.6 350.0 281.0C351.3 282.4 352.8 285.8 354.0 288.0C355.2 290.2 356.1 292.1 357.5 294.0C358.9 295.9 361.1 298.3 362.5 299.5C363.9 300.7 364.8 300.1 366.0 301.0C367.2 301.9 368.7 305.0 370.0 305.0C371.3 305.0 372.5 301.8 374.0 301.0C375.5 300.2 377.3 301.0 379.0 300.5C380.7 300.0 382.6 297.9 384.0 298.0C385.4 298.1 386.3 299.7 387.5 301.0C388.7 302.3 389.8 304.5 391.0 306.0C392.2 307.5 393.7 308.5 395.0 310.0C396.3 311.5 397.8 313.5 399.0 315.0C400.2 316.5 401.1 318.3 402.5 319.0C403.9 319.7 405.8 319.0 407.5 319.0C409.2 319.0 411.1 318.4 412.5 319.0C413.9 319.6 414.8 321.3 416.0 322.5C417.2 323.7 418.5 325.4 420.0 326.0C421.5 326.6 423.5 325.3 425.0 326.0C426.5 326.7 427.8 328.5 429.0 330.0C430.2 331.5 431.3 333.5 432.5 335.0C433.7 336.5 434.8 338.0 436.0 339.0C437.2 340.0 438.7 340.2 440.0 341.0C441.3 341.8 442.8 343.4 444.0 344.0C445.2 344.6 446.5 344.7 447.5 344.5C448.5 344.3 448.9 342.8 450.0 343.0C451.1 343.2 452.8 345.2 454.0 346.0C455.2 346.8 456.1 347.2 457.5 347.5C458.9 347.8 461.1 347.7 462.5 348.0C463.9 348.3 464.9 348.3 466.0 349.5C467.1 350.7 468.2 353.4 469.0 355.0C469.8 356.6 470.2 358.6 471.0 359.0C471.8 359.4 473.2 358.6 474.0 357.5C474.8 356.4 475.0 353.4 476.0 352.5C477.0 351.6 479.0 351.5 480.0 351.9C481.0 352.3 481.1 353.8 481.9 354.7C482.7 355.6 483.8 357.5 484.7 357.5C485.6 357.5 486.6 355.8 487.5 354.7C488.4 353.6 489.4 351.7 490.3 351.0C491.2 350.3 492.2 349.8 493.1 350.4C494.1 351.0 494.9 353.4 496.0 354.7C497.1 356.0 498.6 358.1 499.7 358.4C500.8 358.7 501.6 357.3 502.5 356.6C503.4 355.9 504.4 354.6 505.3 354.1C506.2 353.6 507.2 353.3 508.1 353.8C509.1 354.2 510.1 356.1 511.0 356.6C511.9 357.1 512.8 357.5 513.8 356.6C514.7 355.7 515.6 352.4 516.5 351.0C517.4 349.6 518.3 348.4 519.4 348.1C520.5 347.8 521.9 348.5 523.1 349.0C524.4 349.5 525.8 350.2 526.9 351.0C528.0 351.8 528.6 352.7 529.7 353.8C530.8 354.8 532.1 356.2 533.4 357.1C534.6 358.0 535.9 358.5 537.2 359.0C538.5 359.5 539.8 359.9 541.0 360.3C542.2 360.7 543.5 361.1 544.7 361.2C545.9 361.4 547.1 361.2 548.4 360.9C549.6 360.6 550.9 359.9 552.2 359.4C553.5 358.9 554.8 358.2 556.0 358.0C557.2 357.8 558.6 357.6 559.7 358.0C560.8 358.4 561.6 359.1 562.5 360.3C563.4 361.5 564.2 364.1 565.3 365.0C566.4 365.9 567.8 365.2 569.0 365.5C570.2 365.8 571.7 366.8 572.8 366.9C573.9 367.0 574.7 366.6 575.6 366.0C576.5 365.4 577.5 364.1 578.4 363.5C579.3 362.9 580.3 362.1 581.2 362.2C582.2 362.3 583.2 364.2 584.1 364.0C585.0 363.8 586.0 361.8 586.9 360.9C587.8 360.0 588.8 359.0 589.7 358.4C590.6 357.8 591.6 357.8 592.5 357.5C593.4 357.2 594.4 356.5 595.3 356.6C596.2 356.8 597.1 357.5 598.1 358.4C599.1 359.3 600.1 361.5 601.0 362.2C601.9 362.9 602.8 362.9 603.8 362.8C604.7 362.6 605.6 361.4 606.5 361.6C607.4 361.8 608.4 363.4 609.4 364.0C610.4 364.6 611.3 365.3 612.2 365.4C613.1 365.5 614.1 364.6 615.0 364.6C615.9 364.6 616.9 365.2 617.8 365.4C618.7 365.6 619.7 366.1 620.6 366.0C621.5 365.9 622.5 364.9 623.4 365.0C624.3 365.1 625.3 365.9 626.2 366.5C627.2 367.1 628.0 368.2 629.1 368.4C630.2 368.6 631.7 367.4 632.8 367.8C633.9 368.2 634.7 369.5 635.6 370.6C636.5 371.7 637.3 373.5 638.4 374.4C639.5 375.2 640.9 375.5 642.2 375.7C643.5 375.9 644.6 376.0 646.0 375.7C647.4 375.4 649.1 374.0 650.3 374.1C651.5 374.2 652.1 375.8 653.1 376.6C654.1 377.4 654.9 378.7 656.0 378.8C657.1 378.9 658.5 377.9 659.7 377.5C660.9 377.1 662.1 376.7 663.4 376.2C664.6 375.7 666.1 374.5 667.2 374.3C668.3 374.1 669.1 374.7 670.0 375.1C670.9 375.5 671.7 376.3 672.8 376.6C673.9 376.9 675.5 376.6 676.6 377.1C677.7 377.6 678.5 378.8 679.4 379.8C680.3 380.7 681.3 382.2 682.2 382.8C683.1 383.3 683.9 383.2 685.0 383.1C686.1 383.0 687.5 382.3 688.8 382.2C690.0 382.1 691.4 382.4 692.5 382.6C693.6 382.9 694.4 383.4 695.3 383.7C696.2 384.0 697.1 384.6 698.1 384.4C699.1 384.1 700.1 383.0 701.0 382.2C701.9 381.4 702.8 379.7 703.8 379.4C704.7 379.1 705.7 379.8 706.6 380.3C707.5 380.8 708.5 381.4 709.4 382.2C710.3 383.0 711.3 384.5 712.2 385.0C713.1 385.5 714.1 385.5 715.0 385.4C715.9 385.2 716.9 384.4 717.8 384.1C718.7 383.8 719.7 383.5 720.6 383.5C721.5 383.5 722.5 384.1 723.4 384.2C724.3 384.4 725.3 383.8 726.2 384.1C727.2 384.4 728.2 385.3 729.1 385.9C730.0 386.5 731.0 387.4 731.9 387.8C732.8 388.2 733.6 388.2 734.7 388.4C735.8 388.6 737.1 389.0 738.4 389.1C739.6 389.2 741.1 388.9 742.2 388.8C743.3 388.6 744.1 388.2 745.0 388.4C745.9 388.6 746.9 389.7 747.8 389.7C748.7 389.7 749.7 388.6 750.6 388.4C751.5 388.2 752.5 388.1 753.4 388.4C754.3 388.7 755.1 389.7 756.2 390.2C757.4 390.8 758.9 390.9 760.0 391.6C761.1 392.3 761.9 393.7 762.8 394.4C763.7 395.1 764.7 395.6 765.6 395.7C766.5 395.8 767.5 394.4 768.4 394.8C769.3 395.1 770.3 396.9 771.2 398.1C772.2 399.3 773.2 401.6 774.1 401.9C775.0 402.2 776.0 400.2 776.9 400.0C777.8 399.8 778.8 400.4 779.7 400.6C780.6 400.9 781.6 401.4 782.5 401.5C783.4 401.6 784.4 400.5 785.3 400.9C786.2 401.3 787.1 402.6 788.1 403.8C789.1 404.9 790.1 407.2 791.0 407.5C791.9 407.8 792.8 406.4 793.8 405.6C794.7 404.8 795.7 403.3 796.6 402.8C797.5 402.3 798.3 402.5 799.4 402.4C800.5 402.3 802.0 402.0 803.1 402.2C804.2 402.5 805.1 403.1 806.0 403.8C806.9 404.4 807.7 405.5 808.8 406.0C809.8 406.5 811.4 406.8 812.5 406.6C813.6 406.4 814.4 405.6 815.3 404.7C816.2 403.8 817.0 402.6 818.1 401.5C819.2 400.4 820.6 399.0 821.6 398.4C822.6 397.8 823.5 397.7 824.4 398.0C825.3 398.3 826.1 399.2 827.2 400.0C828.4 400.8 829.8 402.3 831.0 402.8C832.2 403.2 833.6 402.2 834.8 402.8C835.9 403.3 836.7 404.7 837.6 406.0C838.5 407.3 839.5 409.4 840.4 410.6C841.3 411.8 842.3 412.1 843.2 413.4C844.1 414.6 845.2 416.9 846.0 418.1C846.8 419.3 847.5 420.4 848.2 420.4C849.0 420.4 849.8 419.3 850.7 418.1C851.6 416.9 852.6 414.8 853.5 413.4C854.4 412.0 855.4 410.8 856.3 410.0C857.2 409.2 858.1 408.6 859.1 408.4C860.1 408.2 861.1 408.4 862.0 408.8C862.9 409.1 863.8 410.1 864.8 410.6C865.7 411.1 866.7 412.0 867.6 412.0C868.5 412.0 869.5 410.4 870.4 410.6C871.3 410.8 872.3 412.1 873.2 413.4C874.1 414.6 875.1 416.7 876.0 418.1C876.9 419.5 877.7 420.8 878.8 421.9C879.9 423.0 881.5 423.6 882.6 424.7C883.7 425.8 884.5 427.2 885.4 428.4C886.3 429.5 887.3 431.3 888.2 431.6C889.1 431.9 890.1 430.5 891.0 430.3C891.9 430.1 892.7 429.8 893.8 430.3C894.9 430.8 896.5 431.5 897.6 433.1C898.7 434.7 899.5 437.7 900.4 439.7C901.3 441.7 902.3 444.3 903.2 445.3C904.1 446.3 905.1 446.0 906.0 445.9C906.9 445.8 907.9 444.3 908.8 444.4C909.7 444.5 910.7 445.1 911.6 446.2C912.5 447.4 913.5 449.7 914.4 451.0C915.3 452.3 916.3 453.7 917.2 454.3C918.2 454.9 919.1 455.4 920.0 454.7C920.9 454.0 922.1 451.2 922.9 450.0C923.7 448.8 924.0 447.6 924.8 447.8C925.5 447.9 926.7 450.1 927.6 451.0C928.5 451.9 929.5 453.0 930.4 453.2C931.3 453.4 932.3 452.5 933.2 452.2C934.1 452.0 935.1 451.5 936.0 451.5C936.9 451.5 937.9 452.0 938.8 452.4C939.7 452.8 940.7 453.5 941.6 454.1C942.5 454.7 943.5 455.6 944.4 456.2C945.2 456.8 945.9 457.7 946.7 457.5C947.5 457.3 948.2 455.9 949.1 455.0C950.0 454.1 950.8 452.4 951.9 451.9C953.0 451.4 954.6 452.0 955.7 451.9C956.8 451.8 957.6 451.6 958.5 451.5C959.4 451.4 960.8 451.3 961.3 451.3"/></defs>
<use href="#r_ror" class="ln" stroke="#bc5640" style="stroke-width:3.4px;stroke-opacity:0.28"/>
<use href="#r_ror" class="ln" stroke="#bc5640" style="stroke-width:2.1px"/>
<defs><path id="b_ror" d="M119.3 505.0C119.5 499.2 119.9 482.1 120.3 470.0C120.7 457.9 121.2 444.2 121.7 432.5C122.1 420.8 122.6 413.8 123.1 400.0C123.6 386.2 124.1 362.5 124.7 350.0C125.3 337.5 126.1 333.3 126.7 325.0C127.3 316.7 127.5 312.5 128.2 300.0C128.9 287.5 129.7 264.6 131.0 250.0C132.3 235.4 134.6 224.2 136.0 212.5C137.4 200.8 138.6 188.4 139.5 180.0C140.4 171.6 140.3 170.0 141.5 162.0C142.7 154.0 145.0 141.2 146.5 132.0C148.0 122.8 149.2 113.0 150.5 107.0C151.8 101.0 152.8 98.7 154.0 96.0C155.2 93.3 156.6 93.5 158.0 91.0C159.4 88.5 161.2 83.2 162.5 81.0C163.8 78.8 164.6 77.8 166.0 77.5C167.4 77.2 169.3 77.9 171.0 79.5C172.7 81.1 174.4 86.6 176.0 87.0C177.6 87.4 178.9 82.2 180.5 82.0C182.1 81.8 184.1 85.3 185.5 86.0C186.9 86.7 187.8 84.7 189.0 86.0C190.2 87.3 191.3 91.3 192.5 94.0C193.7 96.7 194.8 100.6 196.0 102.0C197.2 103.4 198.7 101.3 200.0 102.5C201.3 103.7 202.8 107.2 204.0 109.0C205.2 110.8 206.1 109.7 207.5 113.0C208.9 116.3 210.9 126.0 212.5 129.0C214.1 132.0 215.3 128.8 217.0 131.0C218.7 133.2 220.8 140.0 222.5 142.5C224.2 145.0 226.1 144.8 227.5 146.0C228.9 147.2 229.3 148.5 231.0 149.5C232.7 150.5 235.3 151.2 237.5 152.0C239.7 152.8 242.1 153.1 244.0 154.0C245.9 154.9 247.6 155.7 249.0 157.5C250.4 159.3 251.5 162.2 252.5 165.0C253.5 167.8 253.9 171.5 255.0 174.0C256.1 176.5 257.8 178.0 259.0 180.0C260.2 182.0 261.3 183.5 262.5 186.0C263.7 188.5 264.6 192.5 266.0 195.0C267.4 197.5 269.5 198.7 271.0 201.0C272.5 203.3 273.5 206.5 275.0 209.0C276.5 211.5 278.3 213.8 280.0 216.0C281.7 218.2 283.3 220.2 285.0 222.5C286.7 224.8 288.3 227.6 290.0 230.0C291.7 232.4 293.3 236.1 295.0 237.0C296.7 237.9 298.5 235.0 300.0 235.5C301.5 236.0 302.8 237.8 304.0 240.0C305.2 242.2 306.1 246.5 307.5 249.0C308.9 251.5 311.1 253.3 312.5 255.0C313.9 256.7 314.8 257.5 316.0 259.0C317.2 260.5 318.7 262.2 320.0 264.0C321.3 265.8 322.8 269.2 324.0 270.0C325.2 270.8 326.3 269.4 327.5 269.0C328.7 268.6 329.8 267.3 331.0 267.5C332.2 267.7 333.5 268.3 335.0 270.0C336.5 271.7 338.3 275.2 340.0 277.5C341.7 279.8 343.3 282.1 345.0 284.0C346.7 285.9 348.3 287.3 350.0 289.0C351.7 290.7 353.3 292.2 355.0 294.0C356.7 295.8 358.3 299.1 360.0 300.0C361.7 300.9 363.3 299.1 365.0 299.5C366.7 299.9 368.5 301.4 370.0 302.5C371.5 303.6 373.0 304.3 374.0 306.0C375.0 307.7 375.2 311.0 376.0 312.5C376.8 314.0 377.9 315.0 379.0 315.0C380.1 315.0 381.3 312.7 382.5 312.5C383.7 312.3 384.8 314.4 386.0 314.0C387.2 313.6 388.9 310.8 390.0 310.0C391.1 309.2 391.7 308.3 392.5 309.0C393.3 309.7 393.9 312.5 395.0 314.0C396.1 315.5 397.8 317.2 399.0 318.0C400.2 318.8 401.3 318.2 402.5 319.0C403.7 319.8 404.8 321.7 406.0 322.5C407.2 323.3 408.5 323.6 410.0 324.0C411.5 324.4 413.5 325.3 415.0 325.0C416.5 324.7 417.8 322.7 419.0 322.0C420.2 321.3 421.3 320.9 422.5 321.0C423.7 321.1 424.8 322.5 426.0 322.5C427.2 322.5 428.7 320.9 430.0 321.0C431.3 321.1 432.8 322.2 434.0 323.0C435.2 323.8 436.3 325.2 437.5 326.0C438.7 326.8 439.8 328.1 441.0 328.0C442.2 327.9 443.7 325.6 445.0 325.5C446.3 325.4 447.8 326.8 449.0 327.5C450.2 328.2 451.1 329.4 452.5 330.0C453.9 330.6 456.1 330.8 457.5 331.0C458.9 331.2 459.8 330.5 461.0 331.0C462.2 331.5 463.7 332.9 465.0 334.0C466.3 335.1 467.8 337.2 469.0 337.5C470.2 337.8 471.3 336.1 472.5 336.0C473.7 335.9 474.8 336.5 476.0 337.0C477.2 337.5 478.7 337.8 480.0 338.8C481.3 339.7 482.7 341.7 483.8 342.5C484.8 343.3 485.4 343.3 486.5 343.4C487.6 343.5 489.1 342.7 490.3 342.9C491.6 343.1 492.8 344.0 494.0 344.8C495.2 345.5 496.6 346.6 497.8 347.2C499.1 347.8 500.4 348.3 501.5 348.1C502.6 347.9 503.4 346.3 504.4 345.9C505.3 345.5 506.3 345.2 507.2 345.7C508.1 346.2 508.9 347.7 510.0 349.0C511.1 350.3 512.7 353.4 513.8 353.8C514.8 354.1 515.6 351.9 516.5 351.0C517.4 350.1 518.4 348.5 519.4 348.1C520.4 347.7 521.3 348.2 522.2 348.5C523.1 348.8 524.1 349.0 525.0 349.6C525.9 350.2 526.9 351.0 527.8 351.9C528.7 352.8 529.7 354.9 530.6 355.2C531.5 355.6 532.5 354.3 533.4 353.8C534.3 353.2 535.1 352.4 536.2 351.9C537.4 351.4 538.8 351.2 540.0 351.0C541.2 350.8 542.5 350.5 543.8 350.8C545.0 351.0 546.2 351.8 547.5 352.2C548.8 352.8 550.0 353.1 551.2 353.8C552.5 354.4 553.8 355.1 555.0 356.0C556.2 356.9 557.5 358.1 558.8 359.4C560.0 360.7 561.4 363.0 562.5 364.0C563.6 365.0 564.2 365.2 565.3 365.5C566.4 365.8 567.8 365.3 569.0 365.5C570.2 365.7 571.5 366.7 572.8 366.9C574.0 367.1 575.4 367.1 576.5 366.5C577.6 365.9 578.6 364.1 579.4 363.5C580.2 362.9 580.6 362.7 581.2 363.1C581.9 363.5 582.3 364.9 583.1 366.0C583.9 367.1 584.9 368.7 586.0 369.7C587.1 370.7 588.5 371.9 589.7 372.0C590.9 372.1 592.3 371.3 593.4 370.6C594.5 369.9 595.3 368.9 596.2 367.8C597.2 366.7 598.2 364.8 599.0 364.0C599.8 363.2 600.2 362.6 601.0 362.8C601.8 362.9 603.0 365.1 603.8 365.0C604.5 364.9 605.0 363.4 605.6 362.2C606.2 360.9 606.9 358.5 607.5 357.5C608.1 356.5 608.8 356.1 609.4 356.0C610.0 355.9 610.6 356.3 611.2 357.0C611.9 357.7 612.3 359.1 613.1 360.3C613.9 361.5 615.1 363.1 616.0 364.0C616.9 364.9 617.8 365.3 618.8 366.0C619.7 366.7 620.7 367.1 621.5 368.2C622.3 369.3 622.8 370.9 623.4 372.5C624.0 374.1 624.5 376.2 625.3 378.1C626.1 380.0 627.3 382.4 628.1 383.8C628.9 385.1 629.2 385.4 630.0 386.2C630.8 387.0 631.9 387.6 632.8 388.4C633.7 389.2 634.7 389.8 635.6 391.2C636.5 392.7 637.6 395.0 638.4 396.9C639.2 398.8 639.7 400.3 640.3 402.5C640.9 404.7 641.4 407.5 642.2 410.0C643.0 412.5 643.9 415.5 645.0 417.5C646.1 419.5 647.8 420.6 648.8 422.2C649.7 423.8 650.0 424.9 650.6 426.9C651.2 428.9 651.9 431.9 652.5 434.4C653.1 436.9 653.8 439.4 654.4 441.9C655.0 444.4 655.5 446.5 656.2 449.4C657.0 452.3 657.9 456.3 658.8 459.4C659.6 462.5 660.7 465.8 661.6 467.8C662.5 469.8 663.5 470.4 664.4 471.6C665.3 472.9 666.3 473.4 667.2 475.3C668.1 477.2 669.1 480.5 670.0 482.8C670.9 485.1 671.9 487.5 672.8 489.4C673.7 491.3 674.7 492.9 675.6 494.0C676.5 495.1 677.5 495.8 678.4 496.0C679.3 496.2 680.3 494.9 681.2 495.0C682.2 495.1 683.3 495.6 684.1 496.5C684.9 497.4 685.4 499.4 686.0 500.6C686.6 501.8 687.2 503.2 687.8 503.8C688.4 504.4 688.9 504.8 689.7 504.4C690.5 504.0 691.6 502.4 692.5 501.6C693.4 500.8 694.5 499.9 695.3 499.7C696.1 499.5 696.4 500.6 697.2 500.2C698.0 499.9 699.2 498.5 700.0 497.8C700.8 497.1 701.0 496.4 701.9 496.0C702.8 495.6 704.5 495.9 705.6 495.4C706.7 494.9 707.6 493.9 708.4 493.1C709.2 492.4 709.7 491.3 710.3 490.9C710.9 490.5 711.4 490.5 712.2 490.9C713.0 491.3 714.1 492.8 715.0 493.1C715.9 493.4 716.9 493.1 717.8 492.8C718.7 492.4 719.7 491.4 720.6 491.2C721.5 491.1 722.6 491.6 723.4 491.8C724.2 492.0 724.5 492.8 725.3 492.2C726.1 491.6 727.1 490.0 728.1 488.4C729.1 486.8 730.2 484.3 731.0 482.8C731.8 481.3 732.2 480.4 732.8 479.6C733.4 478.8 733.9 478.0 734.7 477.8C735.5 477.5 736.6 477.9 737.5 478.1C738.4 478.3 739.6 478.9 740.0 479.0"/></defs>
<use href="#b_ror" class="ln" stroke="#4f69ad" style="stroke-width:3.4px;stroke-opacity:0.28"/>
<use href="#b_ror" class="ln" stroke="#4f69ad" style="stroke-width:2.1px"/>
<defs><path id="o_ror" d="M119.0 507.5C119.2 501.2 119.6 482.5 120.0 470.0C120.4 457.5 120.8 444.2 121.2 432.5C121.7 420.8 122.0 413.8 122.5 400.0C123.0 386.2 123.4 362.5 124.0 350.0C124.6 337.5 125.4 333.3 126.0 325.0C126.6 316.7 126.8 312.5 127.5 300.0C128.2 287.5 128.7 264.6 130.0 250.0C131.3 235.4 133.8 224.2 135.3 212.5C136.8 200.8 137.7 188.8 138.8 180.0C139.9 171.2 140.8 164.6 141.8 160.0C142.8 155.4 144.1 153.8 145.0 152.5C145.9 151.2 146.7 151.7 147.5 152.0C148.3 152.3 148.8 153.4 150.0 154.5C151.2 155.6 153.3 157.5 155.0 158.5C156.7 159.5 158.3 160.7 160.0 160.5C161.7 160.3 163.2 157.9 165.0 157.5C166.8 157.1 169.2 159.1 171.0 158.0C172.8 156.9 174.1 153.6 176.0 151.0C177.9 148.4 180.6 144.2 182.5 142.5C184.4 140.8 185.6 142.9 187.5 141.0C189.4 139.1 192.1 132.2 194.0 131.0C195.9 129.8 197.6 133.7 199.0 134.0C200.4 134.3 201.3 132.9 202.5 133.0C203.7 133.1 204.8 134.3 206.0 134.5C207.2 134.7 208.5 132.4 210.0 134.0C211.5 135.6 213.2 141.3 215.0 144.0C216.8 146.7 218.9 148.0 221.0 150.0C223.1 152.0 225.6 153.5 227.5 156.0C229.4 158.5 230.4 163.3 232.5 165.0C234.6 166.7 237.9 165.2 240.0 166.0C242.1 166.8 243.3 168.5 245.0 170.0C246.7 171.5 248.3 173.3 250.0 175.0C251.7 176.7 253.5 178.5 255.0 180.0C256.5 181.5 257.8 181.7 259.0 184.0C260.2 186.3 261.3 191.3 262.5 194.0C263.7 196.7 264.8 198.0 266.0 200.0C267.2 202.0 268.5 203.3 270.0 206.0C271.5 208.7 273.3 213.2 275.0 216.0C276.7 218.8 278.3 220.2 280.0 222.5C281.7 224.8 283.3 227.8 285.0 230.0C286.7 232.2 288.3 234.2 290.0 236.0C291.7 237.8 293.3 239.1 295.0 241.0C296.7 242.9 298.5 245.8 300.0 247.5C301.5 249.2 302.5 250.4 304.0 251.0C305.5 251.6 307.6 250.2 309.0 251.0C310.4 251.8 311.3 253.7 312.5 256.0C313.7 258.3 314.8 262.2 316.0 265.0C317.2 267.8 318.7 270.0 320.0 272.5C321.3 275.0 322.8 277.5 324.0 280.0C325.2 282.5 326.5 285.0 327.5 287.5C328.5 290.0 329.2 292.8 330.0 295.0C330.8 297.2 331.5 299.8 332.5 301.0C333.5 302.2 334.8 301.8 336.0 302.5C337.2 303.2 338.7 304.9 340.0 305.5C341.3 306.1 342.8 304.8 344.0 306.0C345.2 307.2 346.3 311.3 347.5 312.5C348.7 313.7 349.9 313.2 351.0 313.0C352.1 312.8 352.9 310.5 354.0 311.0C355.1 311.5 356.3 315.4 357.5 316.0C358.7 316.6 359.8 315.1 361.0 314.5C362.2 313.9 363.7 312.8 365.0 312.5C366.3 312.2 367.8 312.2 369.0 313.0C370.2 313.8 371.3 316.2 372.5 317.5C373.7 318.8 374.8 319.8 376.0 321.0C377.2 322.2 378.7 323.5 380.0 325.0C381.3 326.5 383.0 328.2 384.0 330.0C385.0 331.8 385.2 334.2 386.0 336.0C386.8 337.8 387.9 339.7 389.0 341.0C390.1 342.3 391.3 343.3 392.5 344.0C393.7 344.7 394.6 345.0 396.0 345.0C397.4 345.0 399.5 343.6 401.0 344.0C402.5 344.4 403.5 346.7 405.0 347.5C406.5 348.3 408.3 348.9 410.0 349.0C411.7 349.1 413.5 348.0 415.0 348.0C416.5 348.0 417.8 348.5 419.0 349.0C420.2 349.5 421.3 350.7 422.5 351.0C423.7 351.3 424.8 350.8 426.0 351.0C427.2 351.2 428.7 351.4 430.0 352.0C431.3 352.6 432.8 353.6 434.0 354.5C435.2 355.4 436.1 356.8 437.5 357.5C438.9 358.2 441.1 358.2 442.5 359.0C443.9 359.8 444.8 361.8 446.0 362.5C447.2 363.2 448.7 363.1 450.0 363.0C451.3 362.9 452.8 362.9 454.0 362.0C455.2 361.1 456.3 358.5 457.5 357.5C458.7 356.5 459.8 356.2 461.0 356.0C462.2 355.8 463.7 357.0 465.0 356.0C466.3 355.0 467.8 351.2 469.0 350.0C470.2 348.8 471.3 348.8 472.5 349.0C473.7 349.2 474.8 349.7 476.0 351.0C477.2 352.3 478.7 355.4 480.0 356.6C481.3 357.8 482.5 357.9 483.8 358.4C485.0 358.9 486.2 359.0 487.5 359.8C488.8 360.5 490.0 362.1 491.2 363.1C492.5 364.1 493.8 365.3 495.0 365.6C496.2 365.9 497.5 365.3 498.8 365.0C500.0 364.7 501.2 364.2 502.5 364.0C503.8 363.8 505.2 363.9 506.2 363.5C507.3 363.1 508.1 361.7 509.0 361.6C509.9 361.5 510.9 362.0 511.9 362.8C512.9 363.5 513.8 365.3 514.7 366.0C515.6 366.7 516.6 367.1 517.5 366.9C518.4 366.7 519.4 365.0 520.3 365.0C521.2 365.0 522.1 366.3 523.1 366.9C524.1 367.5 525.1 368.3 526.0 368.4C526.9 368.5 527.8 367.6 528.8 367.2C529.7 366.9 530.7 366.8 531.6 366.3C532.5 365.8 533.5 364.8 534.4 364.0C535.3 363.2 536.3 361.6 537.2 361.2C538.1 360.9 539.1 361.7 540.0 362.2C540.9 362.7 541.9 364.4 542.8 364.4C543.7 364.4 544.7 362.8 545.6 362.2C546.5 361.6 547.5 360.9 548.4 360.9C549.3 360.9 550.3 361.6 551.2 362.2C552.2 362.8 553.2 363.6 554.1 364.4C555.0 365.2 556.0 366.0 556.9 366.9C557.8 367.8 558.8 369.0 559.7 369.7C560.6 370.4 561.6 371.2 562.5 371.0C563.4 370.8 564.4 369.1 565.3 368.8C566.2 368.4 567.1 368.6 568.1 369.1C569.1 369.6 570.1 371.4 571.0 371.6C571.9 371.9 572.8 370.6 573.8 370.6C574.7 370.6 575.7 371.0 576.6 371.6C577.5 372.2 578.5 374.1 579.4 374.4C580.3 374.7 581.3 373.8 582.2 373.4C583.1 373.0 583.9 372.2 585.0 372.1C586.1 372.0 587.5 373.1 588.8 372.9C590.0 372.6 591.4 370.7 592.5 370.6C593.6 370.5 594.4 371.8 595.3 372.5C596.2 373.2 597.1 374.6 598.1 375.0C599.1 375.4 600.1 375.2 601.0 375.0C601.9 374.8 602.8 373.9 603.8 374.0C604.7 374.1 605.6 375.1 606.5 375.9C607.4 376.6 608.4 377.7 609.4 378.5C610.4 379.3 611.4 380.2 612.2 380.6C613.0 381.0 613.5 381.1 614.1 380.9C614.7 380.6 615.2 380.2 616.0 379.1C616.8 378.0 618.0 375.8 618.8 374.4C619.5 373.0 620.0 371.7 620.6 371.0C621.2 370.3 621.7 370.3 622.5 370.2C623.3 370.2 624.4 370.7 625.3 370.6C626.2 370.5 627.1 370.1 628.1 369.7C629.1 369.3 630.2 369.1 631.0 368.4C631.8 367.7 632.2 366.3 632.8 365.6C633.4 364.9 633.9 364.3 634.7 364.4C635.5 364.5 636.6 365.2 637.5 366.0C638.4 366.8 639.4 368.2 640.3 369.1C641.2 370.0 642.1 371.0 643.1 371.6C644.1 372.2 645.0 372.8 646.0 372.5C647.0 372.2 648.2 370.8 649.4 370.0C650.6 369.2 651.9 368.3 653.1 367.8C654.4 367.2 655.6 367.3 656.9 366.8C658.1 366.3 659.4 365.5 660.6 364.9C661.9 364.2 663.1 363.9 664.4 362.9C665.6 361.9 667.0 360.1 668.1 359.1C669.2 358.1 670.1 357.5 671.0 356.9C671.9 356.3 672.8 355.7 673.8 355.6C674.7 355.5 675.7 356.2 676.6 356.5C677.5 356.8 678.3 357.3 679.4 357.4C680.5 357.5 682.0 356.5 683.1 356.9C684.2 357.3 685.1 358.6 686.0 359.7C686.9 360.8 687.7 362.1 688.8 363.4C689.8 364.6 691.2 365.9 692.5 367.2C693.8 368.5 695.0 369.6 696.2 371.0C697.5 372.4 698.9 373.9 700.0 375.6C701.1 377.3 702.0 379.5 702.8 381.2C703.6 383.0 703.9 384.9 704.7 386.0C705.5 387.1 706.6 387.7 707.5 387.8C708.4 387.9 709.4 386.9 710.3 386.5C711.2 386.1 712.3 385.1 713.1 385.4C713.9 385.7 714.4 387.1 715.0 388.4C715.6 389.7 716.3 391.6 716.9 393.4C717.5 395.2 718.0 397.3 718.8 399.0C719.5 400.7 720.7 402.6 721.6 403.8C722.5 404.9 723.3 405.1 724.4 405.6C725.5 406.1 727.0 406.4 728.1 407.0C729.2 407.6 730.1 408.2 731.0 409.0C731.9 409.8 732.8 411.0 733.8 411.6C734.7 412.2 735.7 412.8 736.6 412.8C737.5 412.8 738.5 412.2 739.4 411.6C740.3 411.0 741.3 409.8 742.2 409.4C743.1 409.0 743.9 409.1 745.0 409.4C746.1 409.7 747.6 410.2 748.8 411.0C749.9 411.8 750.7 413.1 751.6 414.0C752.5 414.9 753.5 415.7 754.4 416.5C755.3 417.3 756.1 417.2 757.2 419.0C758.3 420.8 759.8 424.7 761.0 427.5C762.2 430.3 763.5 434.0 764.7 436.0C765.9 438.0 767.1 438.1 768.4 439.7C769.6 441.2 770.9 443.3 772.2 445.3C773.5 447.3 774.8 449.7 776.0 451.9C777.2 454.1 778.6 456.5 779.7 458.4C780.8 460.3 781.6 462.4 782.5 463.5C783.4 464.6 784.4 464.9 785.3 465.0C786.2 465.1 787.1 463.6 788.1 464.0C789.1 464.4 790.1 466.2 791.0 467.2C791.9 468.3 792.8 469.6 793.8 470.2C794.7 470.9 796.1 470.9 796.6 471.0"/></defs>
<use href="#o_ror" class="ln" stroke="#dfa354" style="stroke-width:3.4px;stroke-opacity:0.28"/>
<use href="#o_ror" class="ln" stroke="#dfa354" style="stroke-width:2.1px"/>
</g>
<circle cx="110" cy="522.25" r="5.3" fill="#cf4a2c" stroke="#fff" stroke-width="2.2"/>
<circle cx="480" cy="298" r="5.3" fill="#cf4a2c" stroke="#fff" stroke-width="2.2"/>
<circle cx="838" cy="165.5" r="5.3" fill="#cf4a2c" stroke="#fff" stroke-width="2.2"/>
<circle cx="101.25" cy="497" r="5.3" fill="#3d66c9" stroke="#fff" stroke-width="2.2"/>
<circle cx="661.7" cy="157.8" r="5.3" fill="#3d66c9" stroke="#fff" stroke-width="2.2"/>
<circle cx="101.25" cy="492.75" r="5.3" fill="#f0a231" stroke="#fff" stroke-width="2.2"/>
<circle cx="687.8" cy="159.2" r="5.3" fill="#f0a231" stroke="#fff" stroke-width="2.2"/>
<g fill="#8f8f8f"><path d="M972.9 546.6 L977.7 546.6 L977.7 555.5 L985.9 555.5 L985.7 558.8 Q985.4 561.6 982.6 561.8 L969.6 562.3 L970.3 549.3 Q970.5 546.7 972.9 546.6 Z"/><path d="M980.4 545.4 L986.9 545.1 Q987.5 545.1 987.5 545.7 L987.1 552.5 Q987.1 553.1 986.5 553.1 L980.4 553.2 Q979.9 553.2 979.9 552.7 L979.9 545.9 Q979.9 545.4 980.4 545.4 Z"/></g>
</svg>
<svg id="logo" width="1024" height="727" viewBox="0 0 1024 727" style="position:absolute;left:0;top:0"><defs><linearGradient id="lg0" gradientUnits="userSpaceOnUse" x1="505.0" y1="620.8" x2="527.4" y2="665.0"><stop offset="0.000" stop-color="#f7a313"/><stop offset="0.125" stop-color="#f0531f"/><stop offset="0.250" stop-color="#d81b60"/><stop offset="0.375" stop-color="#5b2a9b"/><stop offset="0.500" stop-color="#22cfe6"/><stop offset="0.625" stop-color="#2f6fd6"/><stop offset="0.750" stop-color="#7a2aa0"/><stop offset="0.875" stop-color="#e0206a"/><stop offset="1.000" stop-color="#23c5e8"/></linearGradient><linearGradient id="lg1" gradientUnits="userSpaceOnUse" x1="530.2" y1="618.0" x2="552.1" y2="646.6"><stop offset="0.000" stop-color="#e0206a"/><stop offset="0.200" stop-color="#5b2a9b"/><stop offset="0.400" stop-color="#2a5fd0"/><stop offset="0.600" stop-color="#22cfe6"/><stop offset="0.800" stop-color="#d81b60"/><stop offset="1.000" stop-color="#4a2a90"/></linearGradient><linearGradient id="lg2" gradientUnits="userSpaceOnUse" x1="551.9" y1="617.0" x2="560.1" y2="646.6"><stop offset="0.000" stop-color="#f7a313"/><stop offset="0.167" stop-color="#f0531f"/><stop offset="0.333" stop-color="#d81b60"/><stop offset="0.500" stop-color="#e8306a"/><stop offset="0.667" stop-color="#22cfe6"/><stop offset="0.833" stop-color="#2f6fd6"/><stop offset="1.000" stop-color="#5b2a9b"/></linearGradient><linearGradient id="lg3" gradientUnits="userSpaceOnUse" x1="566.3" y1="624.2" x2="593.6" y2="630.3"><stop offset="0.000" stop-color="#22cfe6"/><stop offset="0.167" stop-color="#d81b60"/><stop offset="0.333" stop-color="#3a4fc8"/><stop offset="0.500" stop-color="#e0206a"/><stop offset="0.667" stop-color="#5b2a9b"/><stop offset="0.833" stop-color="#f0531f"/><stop offset="1.000" stop-color="#f7a313"/></linearGradient><linearGradient id="lg5" gradientUnits="userSpaceOnUse" x1="595.2" y1="635.3" x2="632.1" y2="621.6"><stop offset="0.000" stop-color="#f7a313"/><stop offset="0.143" stop-color="#f0531f"/><stop offset="0.286" stop-color="#22cfe6"/><stop offset="0.429" stop-color="#1fd8d8"/><stop offset="0.571" stop-color="#d81b60"/><stop offset="0.714" stop-color="#5b2a9b"/><stop offset="0.857" stop-color="#2f6fd6"/><stop offset="1.000" stop-color="#22cfe6"/></linearGradient><linearGradient id="lg6" gradientUnits="userSpaceOnUse" x1="621.8" y1="622.9" x2="642.9" y2="640.7"><stop offset="0.000" stop-color="#f7a313"/><stop offset="0.250" stop-color="#f0311f"/><stop offset="0.500" stop-color="#e0206a"/><stop offset="0.750" stop-color="#7a2aa0"/><stop offset="1.000" stop-color="#d81b60"/></linearGradient><linearGradient id="lg7" gradientUnits="userSpaceOnUse" x1="637.1" y1="634.3" x2="657.8" y2="631.6"><stop offset="0.000" stop-color="#5b2a9b"/><stop offset="0.200" stop-color="#d81b60"/><stop offset="0.400" stop-color="#e0206a"/><stop offset="0.600" stop-color="#3a4fc8"/><stop offset="0.800" stop-color="#f0531f"/><stop offset="1.000" stop-color="#d81b60"/></linearGradient><linearGradient id="lg8" gradientUnits="userSpaceOnUse" x1="654.2" y1="633.7" x2="661.7" y2="659.5"><stop offset="0.000" stop-color="#22cfe6"/><stop offset="0.200" stop-color="#1fd8d8"/><stop offset="0.400" stop-color="#d81b60"/><stop offset="0.600" stop-color="#f0311f"/><stop offset="0.800" stop-color="#e0206a"/><stop offset="1.000" stop-color="#5b2a9b"/></linearGradient></defs><g transform="matrix(1 0 -0.120 1 0 0)"><text font-family="Liberation Sans, sans-serif" font-weight="normal" stroke-width="0.9" stroke-linejoin="round" xml:space="preserve"><tspan x="506.30" y="664.20" font-size="61.59" textLength="32.48" lengthAdjust="spacingAndGlyphs" fill="url(#lg0)" stroke="url(#lg0)">B</tspan><tspan x="532.79" y="645.64" font-size="39.58" textLength="17.07" lengthAdjust="spacingAndGlyphs" font-style="italic" fill="url(#lg1)" stroke="url(#lg1)">R</tspan><tspan x="547.79" y="645.64" font-size="41.00" textLength="19.76" lengthAdjust="spacingAndGlyphs" font-style="italic" fill="url(#lg2)" stroke="url(#lg2)">E</tspan><tspan x="565.03" y="644.64" font-size="42.43" textLength="24.05" lengthAdjust="spacingAndGlyphs" font-style="italic" fill="url(#lg3)" stroke="url(#lg3)">W</tspan><tspan> </tspan><tspan x="595.82" y="652.70" font-size="63.89" textLength="34.56" lengthAdjust="spacingAndGlyphs" font-style="italic" fill="url(#lg5)" stroke="url(#lg5)">H</tspan><tspan x="626.19" y="645.64" font-size="41.00" textLength="17.83" lengthAdjust="spacingAndGlyphs" font-style="italic" fill="url(#lg6)" stroke="url(#lg6)">A</tspan><tspan x="636.31" y="646.64" font-size="36.73" textLength="19.80" lengthAdjust="spacingAndGlyphs" font-style="italic" fill="url(#lg7)" stroke="url(#lg7)">U</tspan><tspan x="647.04" y="658.70" font-size="35.12" textLength="21.05" lengthAdjust="spacingAndGlyphs" font-style="italic" fill="url(#lg8)" stroke="url(#lg8)">S</tspan></text></g></svg>
<div id="sub">COFFEE BLOG</div>
</body>
</html>
